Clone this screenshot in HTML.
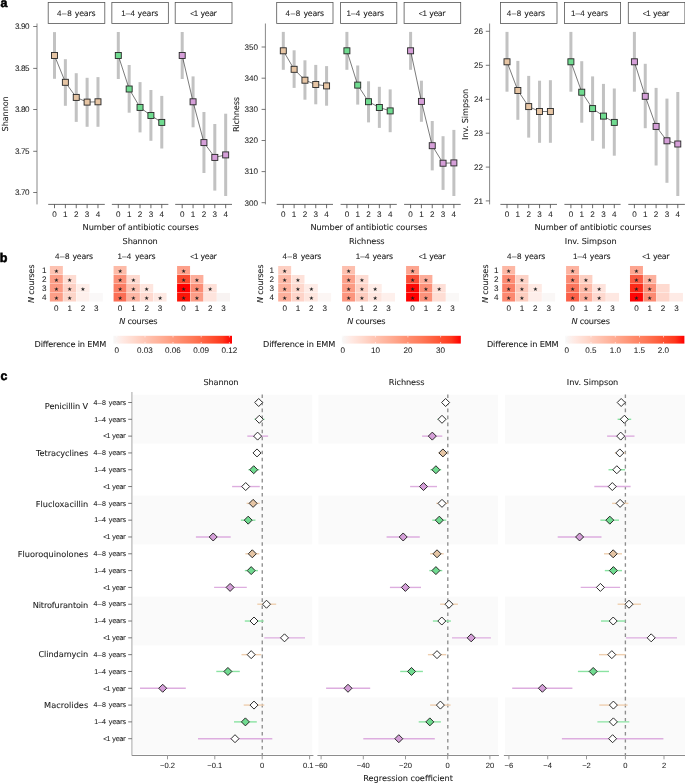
<!DOCTYPE html>
<html lang="en"><head><meta charset="utf-8"><title>Antibiotic courses and gut microbiome diversity</title>
<style>html,body{margin:0;padding:0;background:#fff}body{width:685px;height:783px;overflow:hidden}svg{display:block}text{font-family:'Liberation Sans', 'DejaVu Sans', sans-serif;fill:#222;stroke:#222;stroke-width:.05px;text-rendering:geometricPrecision}text.l{font-family:'DejaVu Sans', 'Liberation Sans', sans-serif;stroke-width:.08px}tspan.d{font-family:'Liberation Sans', 'DejaVu Sans', sans-serif}</style>
</head><body>
<svg width="685" height="783" viewBox="0 0 685 783" role="img" aria-label="Gut microbiome diversity by number of antibiotic courses">
<defs><linearGradient id="rg" x1="0" y1="0" x2="1" y2="0"><stop offset="0" stop-color="#F8F8F8"/><stop offset="0.08" stop-color="#FFE9E3"/><stop offset="0.17" stop-color="#FFDACE"/><stop offset="0.25" stop-color="#FFCABA"/><stop offset="0.33" stop-color="#FFBBA6"/><stop offset="0.42" stop-color="#FFAB92"/><stop offset="0.5" stop-color="#FF9B7E"/><stop offset="0.58" stop-color="#FF8A6B"/><stop offset="0.67" stop-color="#FF7958"/><stop offset="0.75" stop-color="#FF6645"/><stop offset="0.83" stop-color="#FF5131"/><stop offset="0.92" stop-color="#FF371C"/><stop offset="1" stop-color="#FF0000"/></linearGradient></defs>
<rect width="685" height="783" fill="#fff"/>
<text x="0.6" y="6.7" font-size="12.4" style="font-weight:bold;fill:#000;stroke:#000;stroke-width:.55px">a</text>
<text x="-0.3" y="261.5" font-size="12.6" style="font-weight:bold;fill:#000;stroke:#000;stroke-width:.55px">b</text>
<text x="0.6" y="380" font-size="12.3" style="font-weight:bold;fill:#000;stroke:#000;stroke-width:.55px">c</text>
<g id="panel-a">
<line x1="37" y1="23.5" x2="37" y2="204.4" stroke="#7a7a7a" stroke-width="0.9"/>
<line x1="33.2" y1="26.5" x2="37" y2="26.5" stroke="#555" stroke-width="0.8"/>
<text x="29.6" y="29.35" font-size="8.1" text-anchor="end" textLength="14.6" lengthAdjust="spacing">3.90</text>
<line x1="33.2" y1="68.4" x2="37" y2="68.4" stroke="#555" stroke-width="0.8"/>
<text x="29.6" y="71.25" font-size="8.1" text-anchor="end" textLength="14.6" lengthAdjust="spacing">3.85</text>
<line x1="33.2" y1="109.5" x2="37" y2="109.5" stroke="#555" stroke-width="0.8"/>
<text x="29.6" y="112.35" font-size="8.1" text-anchor="end" textLength="14.6" lengthAdjust="spacing">3.80</text>
<line x1="33.2" y1="151.3" x2="37" y2="151.3" stroke="#555" stroke-width="0.8"/>
<text x="29.6" y="154.15" font-size="8.1" text-anchor="end" textLength="14.6" lengthAdjust="spacing">3.75</text>
<line x1="33.2" y1="192.5" x2="37" y2="192.5" stroke="#555" stroke-width="0.8"/>
<text x="29.6" y="195.35" font-size="8.1" text-anchor="end" textLength="14.6" lengthAdjust="spacing">3.70</text>
<text x="8.3" y="113.8" font-size="8.2" text-anchor="middle" textLength="35.2" lengthAdjust="spacing" class="l" transform="rotate(-90 8.3 113.8)">Shannon</text>
<rect x="48.2" y="2.5" width="56.6" height="21" fill="#fff" stroke="#555" stroke-width="0.8"/>
<text class="l" y="15.75" font-size="7.87"><tspan class="d" x="57" font-size="8" style="letter-spacing:0.63px">4–8 </tspan><tspan x="74.8" style="letter-spacing:-0.22px">years</tspan></text>
<line x1="48.2" y1="204.4" x2="104.8" y2="204.4" stroke="#444" stroke-width="0.8"/>
<line x1="54.5" y1="204.4" x2="54.5" y2="208.2" stroke="#444" stroke-width="0.8"/>
<text x="54.5" y="217.3" font-size="8.1" text-anchor="middle">0</text>
<line x1="65.37" y1="204.4" x2="65.37" y2="208.2" stroke="#444" stroke-width="0.8"/>
<text x="65.37" y="217.3" font-size="8.1" text-anchor="middle">1</text>
<line x1="76.24" y1="204.4" x2="76.24" y2="208.2" stroke="#444" stroke-width="0.8"/>
<text x="76.24" y="217.3" font-size="8.1" text-anchor="middle">2</text>
<line x1="87.11" y1="204.4" x2="87.11" y2="208.2" stroke="#444" stroke-width="0.8"/>
<text x="87.11" y="217.3" font-size="8.1" text-anchor="middle">3</text>
<line x1="97.98" y1="204.4" x2="97.98" y2="208.2" stroke="#444" stroke-width="0.8"/>
<text x="97.98" y="217.3" font-size="8.1" text-anchor="middle">4</text>
<rect x="53" y="32.1" width="3" height="46.7" fill="#C2C2C2"/>
<rect x="63.87" y="59.2" width="3" height="46.6" fill="#C2C2C2"/>
<rect x="74.74" y="73.2" width="3" height="48.7" fill="#C2C2C2"/>
<rect x="85.61" y="77.8" width="3" height="49" fill="#C2C2C2"/>
<rect x="96.48" y="77.1" width="3" height="49.7" fill="#C2C2C2"/>
<polyline points="54.5,55.5 65.37,82.3 76.24,97.4 87.11,102.1 97.98,101.8" fill="none" stroke="#222" stroke-width="0.6"/>
<rect x="51.5" y="52.5" width="6" height="6" fill="#E6C5A4" stroke="#262626" stroke-width="0.9"/>
<rect x="62.37" y="79.3" width="6" height="6" fill="#E6C5A4" stroke="#262626" stroke-width="0.9"/>
<rect x="73.24" y="94.4" width="6" height="6" fill="#E6C5A4" stroke="#262626" stroke-width="0.9"/>
<rect x="84.11" y="99.1" width="6" height="6" fill="#E6C5A4" stroke="#262626" stroke-width="0.9"/>
<rect x="94.98" y="98.8" width="6" height="6" fill="#E6C5A4" stroke="#262626" stroke-width="0.9"/>
<rect x="111.85" y="2.5" width="56.5" height="21" fill="#fff" stroke="#555" stroke-width="0.8"/>
<text class="l" y="15.75" font-size="7.87"><tspan class="d" x="121.15" font-size="8" style="letter-spacing:0.2px">1–4 </tspan><tspan x="137.5" style="letter-spacing:-0.22px">years</tspan></text>
<line x1="111.85" y1="204.4" x2="168.35" y2="204.4" stroke="#444" stroke-width="0.8"/>
<line x1="118.3" y1="204.4" x2="118.3" y2="208.2" stroke="#444" stroke-width="0.8"/>
<text x="118.3" y="217.3" font-size="8.1" text-anchor="middle">0</text>
<line x1="129.17" y1="204.4" x2="129.17" y2="208.2" stroke="#444" stroke-width="0.8"/>
<text x="129.17" y="217.3" font-size="8.1" text-anchor="middle">1</text>
<line x1="140.04" y1="204.4" x2="140.04" y2="208.2" stroke="#444" stroke-width="0.8"/>
<text x="140.04" y="217.3" font-size="8.1" text-anchor="middle">2</text>
<line x1="150.91" y1="204.4" x2="150.91" y2="208.2" stroke="#444" stroke-width="0.8"/>
<text x="150.91" y="217.3" font-size="8.1" text-anchor="middle">3</text>
<line x1="161.78" y1="204.4" x2="161.78" y2="208.2" stroke="#444" stroke-width="0.8"/>
<text x="161.78" y="217.3" font-size="8.1" text-anchor="middle">4</text>
<rect x="116.8" y="32" width="3" height="47" fill="#C2C2C2"/>
<rect x="127.67" y="65" width="3" height="47.7" fill="#C2C2C2"/>
<rect x="138.54" y="82.1" width="3" height="50.3" fill="#C2C2C2"/>
<rect x="149.41" y="90" width="3" height="50.8" fill="#C2C2C2"/>
<rect x="160.28" y="95.9" width="3" height="52.6" fill="#C2C2C2"/>
<polyline points="118.3,55.5 129.17,89 140.04,107.4 150.91,115.5 161.78,122.4" fill="none" stroke="#222" stroke-width="0.6"/>
<rect x="115.3" y="52.5" width="6" height="6" fill="#70DB90" stroke="#262626" stroke-width="0.9"/>
<rect x="126.17" y="86" width="6" height="6" fill="#70DB90" stroke="#262626" stroke-width="0.9"/>
<rect x="137.04" y="104.4" width="6" height="6" fill="#70DB90" stroke="#262626" stroke-width="0.9"/>
<rect x="147.91" y="112.5" width="6" height="6" fill="#70DB90" stroke="#262626" stroke-width="0.9"/>
<rect x="158.78" y="119.4" width="6" height="6" fill="#70DB90" stroke="#262626" stroke-width="0.9"/>
<rect x="175.2" y="2.5" width="56.8" height="21" fill="#fff" stroke="#555" stroke-width="0.8"/>
<text class="l" y="15.75" font-size="7.87"><tspan class="d" x="190.15" font-size="7.3">&lt;</tspan><tspan class="d" x="193.83" font-size="8">1 </tspan><tspan x="200.45" style="letter-spacing:-0.39px">year</tspan></text>
<line x1="175.2" y1="204.4" x2="232" y2="204.4" stroke="#444" stroke-width="0.8"/>
<line x1="182.2" y1="204.4" x2="182.2" y2="208.2" stroke="#444" stroke-width="0.8"/>
<text x="182.2" y="217.3" font-size="8.1" text-anchor="middle">0</text>
<line x1="193.07" y1="204.4" x2="193.07" y2="208.2" stroke="#444" stroke-width="0.8"/>
<text x="193.07" y="217.3" font-size="8.1" text-anchor="middle">1</text>
<line x1="203.94" y1="204.4" x2="203.94" y2="208.2" stroke="#444" stroke-width="0.8"/>
<text x="203.94" y="217.3" font-size="8.1" text-anchor="middle">2</text>
<line x1="214.81" y1="204.4" x2="214.81" y2="208.2" stroke="#444" stroke-width="0.8"/>
<text x="214.81" y="217.3" font-size="8.1" text-anchor="middle">3</text>
<line x1="225.68" y1="204.4" x2="225.68" y2="208.2" stroke="#444" stroke-width="0.8"/>
<text x="225.68" y="217.3" font-size="8.1" text-anchor="middle">4</text>
<rect x="180.7" y="32" width="3" height="47" fill="#C2C2C2"/>
<rect x="191.57" y="76.4" width="3" height="50.9" fill="#C2C2C2"/>
<rect x="202.44" y="112" width="3" height="61" fill="#C2C2C2"/>
<rect x="213.31" y="124" width="3" height="66.6" fill="#C2C2C2"/>
<rect x="224.18" y="113.7" width="3" height="82.3" fill="#C2C2C2"/>
<polyline points="182.2,55.5 193.07,101.8 203.94,142.6 214.81,157.4 225.68,154.9" fill="none" stroke="#222" stroke-width="0.6"/>
<rect x="179.2" y="52.5" width="6" height="6" fill="#D59FD8" stroke="#262626" stroke-width="0.9"/>
<rect x="190.07" y="98.8" width="6" height="6" fill="#D59FD8" stroke="#262626" stroke-width="0.9"/>
<rect x="200.94" y="139.6" width="6" height="6" fill="#D59FD8" stroke="#262626" stroke-width="0.9"/>
<rect x="211.81" y="154.4" width="6" height="6" fill="#D59FD8" stroke="#262626" stroke-width="0.9"/>
<rect x="222.68" y="151.9" width="6" height="6" fill="#D59FD8" stroke="#262626" stroke-width="0.9"/>
<text x="82.6" y="230.4" font-size="8.2" textLength="116.2" lengthAdjust="spacing" class="l">Number of antibiotic courses</text>
<text x="122.6" y="244.1" font-size="8.2" textLength="35.1" lengthAdjust="spacing" class="l">Shannon</text>
<line x1="265.4" y1="23.5" x2="265.4" y2="204.4" stroke="#7a7a7a" stroke-width="0.9"/>
<line x1="261.6" y1="47" x2="265.4" y2="47" stroke="#555" stroke-width="0.8"/>
<text x="258" y="49.85" font-size="8.1" text-anchor="end">350</text>
<line x1="261.6" y1="78.2" x2="265.4" y2="78.2" stroke="#555" stroke-width="0.8"/>
<text x="258" y="81.05" font-size="8.1" text-anchor="end">340</text>
<line x1="261.6" y1="109.4" x2="265.4" y2="109.4" stroke="#555" stroke-width="0.8"/>
<text x="258" y="112.25" font-size="8.1" text-anchor="end">330</text>
<line x1="261.6" y1="140.5" x2="265.4" y2="140.5" stroke="#555" stroke-width="0.8"/>
<text x="258" y="143.35" font-size="8.1" text-anchor="end">320</text>
<line x1="261.6" y1="171.6" x2="265.4" y2="171.6" stroke="#555" stroke-width="0.8"/>
<text x="258" y="174.45" font-size="8.1" text-anchor="end">310</text>
<line x1="261.6" y1="202.7" x2="265.4" y2="202.7" stroke="#555" stroke-width="0.8"/>
<text x="258" y="205.55" font-size="8.1" text-anchor="end">300</text>
<text x="239.3" y="114.5" font-size="8.2" text-anchor="middle" textLength="35" lengthAdjust="spacing" class="l" transform="rotate(-90 239.3 114.5)">Richness</text>
<rect x="276.7" y="2.5" width="56.3" height="21" fill="#fff" stroke="#555" stroke-width="0.8"/>
<text class="l" y="15.75" font-size="7.87"><tspan class="d" x="285.6" font-size="8" style="letter-spacing:0.63px">4–8 </tspan><tspan x="303.4" style="letter-spacing:-0.22px">years</tspan></text>
<line x1="276.7" y1="204.4" x2="333" y2="204.4" stroke="#444" stroke-width="0.8"/>
<line x1="283.3" y1="204.4" x2="283.3" y2="208.2" stroke="#444" stroke-width="0.8"/>
<text x="283.3" y="217.3" font-size="8.1" text-anchor="middle">0</text>
<line x1="294.12" y1="204.4" x2="294.12" y2="208.2" stroke="#444" stroke-width="0.8"/>
<text x="294.12" y="217.3" font-size="8.1" text-anchor="middle">1</text>
<line x1="304.94" y1="204.4" x2="304.94" y2="208.2" stroke="#444" stroke-width="0.8"/>
<text x="304.94" y="217.3" font-size="8.1" text-anchor="middle">2</text>
<line x1="315.76" y1="204.4" x2="315.76" y2="208.2" stroke="#444" stroke-width="0.8"/>
<text x="315.76" y="217.3" font-size="8.1" text-anchor="middle">3</text>
<line x1="326.58" y1="204.4" x2="326.58" y2="208.2" stroke="#444" stroke-width="0.8"/>
<text x="326.58" y="217.3" font-size="8.1" text-anchor="middle">4</text>
<rect x="281.8" y="31.9" width="3" height="37.9" fill="#C2C2C2"/>
<rect x="292.62" y="50.3" width="3" height="37.6" fill="#C2C2C2"/>
<rect x="303.44" y="60.3" width="3" height="39.4" fill="#C2C2C2"/>
<rect x="314.26" y="64.9" width="3" height="39.4" fill="#C2C2C2"/>
<rect x="325.08" y="66.1" width="3" height="39.6" fill="#C2C2C2"/>
<polyline points="283.3,50.8 294.12,69.3 304.94,80.2 315.76,84.5 326.58,85.9" fill="none" stroke="#222" stroke-width="0.6"/>
<rect x="280.3" y="47.8" width="6" height="6" fill="#E6C5A4" stroke="#262626" stroke-width="0.9"/>
<rect x="291.12" y="66.3" width="6" height="6" fill="#E6C5A4" stroke="#262626" stroke-width="0.9"/>
<rect x="301.94" y="77.2" width="6" height="6" fill="#E6C5A4" stroke="#262626" stroke-width="0.9"/>
<rect x="312.76" y="81.5" width="6" height="6" fill="#E6C5A4" stroke="#262626" stroke-width="0.9"/>
<rect x="323.58" y="82.9" width="6" height="6" fill="#E6C5A4" stroke="#262626" stroke-width="0.9"/>
<rect x="340.6" y="2.5" width="56.2" height="21" fill="#fff" stroke="#555" stroke-width="0.8"/>
<text class="l" y="15.75" font-size="7.87"><tspan class="d" x="346.45" font-size="8" style="letter-spacing:0.2px">1–4 </tspan><tspan x="363.3" style="letter-spacing:-0.22px">years</tspan></text>
<line x1="340.6" y1="204.4" x2="396.8" y2="204.4" stroke="#444" stroke-width="0.8"/>
<line x1="346.9" y1="204.4" x2="346.9" y2="208.2" stroke="#444" stroke-width="0.8"/>
<text x="346.9" y="217.3" font-size="8.1" text-anchor="middle">0</text>
<line x1="357.72" y1="204.4" x2="357.72" y2="208.2" stroke="#444" stroke-width="0.8"/>
<text x="357.72" y="217.3" font-size="8.1" text-anchor="middle">1</text>
<line x1="368.54" y1="204.4" x2="368.54" y2="208.2" stroke="#444" stroke-width="0.8"/>
<text x="368.54" y="217.3" font-size="8.1" text-anchor="middle">2</text>
<line x1="379.36" y1="204.4" x2="379.36" y2="208.2" stroke="#444" stroke-width="0.8"/>
<text x="379.36" y="217.3" font-size="8.1" text-anchor="middle">3</text>
<line x1="390.18" y1="204.4" x2="390.18" y2="208.2" stroke="#444" stroke-width="0.8"/>
<text x="390.18" y="217.3" font-size="8.1" text-anchor="middle">4</text>
<rect x="345.4" y="31.9" width="3" height="37.9" fill="#C2C2C2"/>
<rect x="356.22" y="65.5" width="3" height="39.1" fill="#C2C2C2"/>
<rect x="367.04" y="81.3" width="3" height="41.1" fill="#C2C2C2"/>
<rect x="377.86" y="86.8" width="3" height="41.1" fill="#C2C2C2"/>
<rect x="388.68" y="89.4" width="3" height="42.8" fill="#C2C2C2"/>
<polyline points="346.9,50.8 357.72,85.1 368.54,101.7 379.36,107.5 390.18,110.9" fill="none" stroke="#222" stroke-width="0.6"/>
<rect x="343.9" y="47.8" width="6" height="6" fill="#70DB90" stroke="#262626" stroke-width="0.9"/>
<rect x="354.72" y="82.1" width="6" height="6" fill="#70DB90" stroke="#262626" stroke-width="0.9"/>
<rect x="365.54" y="98.7" width="6" height="6" fill="#70DB90" stroke="#262626" stroke-width="0.9"/>
<rect x="376.36" y="104.5" width="6" height="6" fill="#70DB90" stroke="#262626" stroke-width="0.9"/>
<rect x="387.18" y="107.9" width="6" height="6" fill="#70DB90" stroke="#262626" stroke-width="0.9"/>
<rect x="404.1" y="2.5" width="56.6" height="21" fill="#fff" stroke="#555" stroke-width="0.8"/>
<text class="l" y="15.75" font-size="7.87"><tspan class="d" x="418.85" font-size="7.3">&lt;</tspan><tspan class="d" x="422.53" font-size="8">1 </tspan><tspan x="429.15" style="letter-spacing:-0.39px">year</tspan></text>
<line x1="404.1" y1="204.4" x2="460.7" y2="204.4" stroke="#444" stroke-width="0.8"/>
<line x1="410.6" y1="204.4" x2="410.6" y2="208.2" stroke="#444" stroke-width="0.8"/>
<text x="410.6" y="217.3" font-size="8.1" text-anchor="middle">0</text>
<line x1="421.42" y1="204.4" x2="421.42" y2="208.2" stroke="#444" stroke-width="0.8"/>
<text x="421.42" y="217.3" font-size="8.1" text-anchor="middle">1</text>
<line x1="432.24" y1="204.4" x2="432.24" y2="208.2" stroke="#444" stroke-width="0.8"/>
<text x="432.24" y="217.3" font-size="8.1" text-anchor="middle">2</text>
<line x1="443.06" y1="204.4" x2="443.06" y2="208.2" stroke="#444" stroke-width="0.8"/>
<text x="443.06" y="217.3" font-size="8.1" text-anchor="middle">3</text>
<line x1="453.88" y1="204.4" x2="453.88" y2="208.2" stroke="#444" stroke-width="0.8"/>
<text x="453.88" y="217.3" font-size="8.1" text-anchor="middle">4</text>
<rect x="409.1" y="31.9" width="3" height="37.9" fill="#C2C2C2"/>
<rect x="419.92" y="80.7" width="3" height="41.1" fill="#C2C2C2"/>
<rect x="430.74" y="121" width="3" height="49.4" fill="#C2C2C2"/>
<rect x="441.56" y="136.2" width="3" height="53.7" fill="#C2C2C2"/>
<rect x="452.38" y="129.9" width="3" height="66.1" fill="#C2C2C2"/>
<polyline points="410.6,50.8 421.42,101.4 432.24,145.7 443.06,163.2 453.88,162.9" fill="none" stroke="#222" stroke-width="0.6"/>
<rect x="407.6" y="47.8" width="6" height="6" fill="#D59FD8" stroke="#262626" stroke-width="0.9"/>
<rect x="418.42" y="98.4" width="6" height="6" fill="#D59FD8" stroke="#262626" stroke-width="0.9"/>
<rect x="429.24" y="142.7" width="6" height="6" fill="#D59FD8" stroke="#262626" stroke-width="0.9"/>
<rect x="440.06" y="160.2" width="6" height="6" fill="#D59FD8" stroke="#262626" stroke-width="0.9"/>
<rect x="450.88" y="159.9" width="6" height="6" fill="#D59FD8" stroke="#262626" stroke-width="0.9"/>
<text x="310.4" y="230.4" font-size="8.2" textLength="116.8" lengthAdjust="spacing" class="l">Number of antibiotic courses</text>
<text x="349" y="244.1" font-size="8.2" textLength="35.6" lengthAdjust="spacing" class="l">Richness</text>
<line x1="489.6" y1="23.5" x2="489.6" y2="204.4" stroke="#7a7a7a" stroke-width="0.9"/>
<line x1="485.8" y1="31.3" x2="489.6" y2="31.3" stroke="#555" stroke-width="0.8"/>
<text x="483.1" y="34.15" font-size="8.1" text-anchor="end">26</text>
<line x1="485.8" y1="65.3" x2="489.6" y2="65.3" stroke="#555" stroke-width="0.8"/>
<text x="483.1" y="68.15" font-size="8.1" text-anchor="end">25</text>
<line x1="485.8" y1="99.3" x2="489.6" y2="99.3" stroke="#555" stroke-width="0.8"/>
<text x="483.1" y="102.15" font-size="8.1" text-anchor="end">24</text>
<line x1="485.8" y1="133.2" x2="489.6" y2="133.2" stroke="#555" stroke-width="0.8"/>
<text x="483.1" y="136.05" font-size="8.1" text-anchor="end">23</text>
<line x1="485.8" y1="167.1" x2="489.6" y2="167.1" stroke="#555" stroke-width="0.8"/>
<text x="483.1" y="169.95" font-size="8.1" text-anchor="end">22</text>
<line x1="485.8" y1="200.9" x2="489.6" y2="200.9" stroke="#555" stroke-width="0.8"/>
<text x="483.1" y="203.75" font-size="8.1" text-anchor="end">21</text>
<text x="467.9" y="114.3" font-size="8.2" text-anchor="middle" textLength="51.2" lengthAdjust="spacing" class="l" transform="rotate(-90 467.9 114.3)">Inv. Simpson</text>
<rect x="500.4" y="2.5" width="56.6" height="21" fill="#fff" stroke="#555" stroke-width="0.8"/>
<text class="l" y="15.75" font-size="7.87"><tspan class="d" x="506.7" font-size="8" style="letter-spacing:0.63px">4–8 </tspan><tspan x="524.3" style="letter-spacing:-0.22px">years</tspan></text>
<line x1="500.4" y1="204.4" x2="557" y2="204.4" stroke="#444" stroke-width="0.8"/>
<line x1="507" y1="204.4" x2="507" y2="208.2" stroke="#444" stroke-width="0.8"/>
<text x="507" y="217.3" font-size="8.1" text-anchor="middle">0</text>
<line x1="517.85" y1="204.4" x2="517.85" y2="208.2" stroke="#444" stroke-width="0.8"/>
<text x="517.85" y="217.3" font-size="8.1" text-anchor="middle">1</text>
<line x1="528.7" y1="204.4" x2="528.7" y2="208.2" stroke="#444" stroke-width="0.8"/>
<text x="528.7" y="217.3" font-size="8.1" text-anchor="middle">2</text>
<line x1="539.55" y1="204.4" x2="539.55" y2="208.2" stroke="#444" stroke-width="0.8"/>
<text x="539.55" y="217.3" font-size="8.1" text-anchor="middle">3</text>
<line x1="550.4" y1="204.4" x2="550.4" y2="208.2" stroke="#444" stroke-width="0.8"/>
<text x="550.4" y="217.3" font-size="8.1" text-anchor="middle">4</text>
<rect x="505.5" y="31.9" width="3" height="59.8" fill="#C2C2C2"/>
<rect x="516.35" y="60.9" width="3" height="58.9" fill="#C2C2C2"/>
<rect x="527.2" y="75.9" width="3" height="61.7" fill="#C2C2C2"/>
<rect x="538.05" y="80.7" width="3" height="62.1" fill="#C2C2C2"/>
<rect x="548.9" y="80.2" width="3" height="62.6" fill="#C2C2C2"/>
<polyline points="507,61.8 517.85,90.5 528.7,106.6 539.55,111.5 550.4,111.5" fill="none" stroke="#222" stroke-width="0.6"/>
<rect x="504" y="58.8" width="6" height="6" fill="#E6C5A4" stroke="#262626" stroke-width="0.9"/>
<rect x="514.85" y="87.5" width="6" height="6" fill="#E6C5A4" stroke="#262626" stroke-width="0.9"/>
<rect x="525.7" y="103.6" width="6" height="6" fill="#E6C5A4" stroke="#262626" stroke-width="0.9"/>
<rect x="536.55" y="108.5" width="6" height="6" fill="#E6C5A4" stroke="#262626" stroke-width="0.9"/>
<rect x="547.4" y="108.5" width="6" height="6" fill="#E6C5A4" stroke="#262626" stroke-width="0.9"/>
<rect x="564.4" y="2.5" width="56.2" height="21" fill="#fff" stroke="#555" stroke-width="0.8"/>
<text class="l" y="15.75" font-size="7.87"><tspan class="d" x="570.95" font-size="8" style="letter-spacing:0.2px">1–4 </tspan><tspan x="587.3" style="letter-spacing:-0.22px">years</tspan></text>
<line x1="564.4" y1="204.4" x2="620.6" y2="204.4" stroke="#444" stroke-width="0.8"/>
<line x1="570.9" y1="204.4" x2="570.9" y2="208.2" stroke="#444" stroke-width="0.8"/>
<text x="570.9" y="217.3" font-size="8.1" text-anchor="middle">0</text>
<line x1="581.75" y1="204.4" x2="581.75" y2="208.2" stroke="#444" stroke-width="0.8"/>
<text x="581.75" y="217.3" font-size="8.1" text-anchor="middle">1</text>
<line x1="592.6" y1="204.4" x2="592.6" y2="208.2" stroke="#444" stroke-width="0.8"/>
<text x="592.6" y="217.3" font-size="8.1" text-anchor="middle">2</text>
<line x1="603.45" y1="204.4" x2="603.45" y2="208.2" stroke="#444" stroke-width="0.8"/>
<text x="603.45" y="217.3" font-size="8.1" text-anchor="middle">3</text>
<line x1="614.3" y1="204.4" x2="614.3" y2="208.2" stroke="#444" stroke-width="0.8"/>
<text x="614.3" y="217.3" font-size="8.1" text-anchor="middle">4</text>
<rect x="569.4" y="31.9" width="3" height="59.8" fill="#C2C2C2"/>
<rect x="580.25" y="61.2" width="3" height="61.5" fill="#C2C2C2"/>
<rect x="591.1" y="76.4" width="3" height="64.4" fill="#C2C2C2"/>
<rect x="601.95" y="83.9" width="3" height="64.7" fill="#C2C2C2"/>
<rect x="612.8" y="88.5" width="3" height="67.2" fill="#C2C2C2"/>
<polyline points="570.9,61.8 581.75,92.2 592.6,108.6 603.45,116.1 614.3,122.4" fill="none" stroke="#222" stroke-width="0.6"/>
<rect x="567.9" y="58.8" width="6" height="6" fill="#70DB90" stroke="#262626" stroke-width="0.9"/>
<rect x="578.75" y="89.2" width="6" height="6" fill="#70DB90" stroke="#262626" stroke-width="0.9"/>
<rect x="589.6" y="105.6" width="6" height="6" fill="#70DB90" stroke="#262626" stroke-width="0.9"/>
<rect x="600.45" y="113.1" width="6" height="6" fill="#70DB90" stroke="#262626" stroke-width="0.9"/>
<rect x="611.3" y="119.4" width="6" height="6" fill="#70DB90" stroke="#262626" stroke-width="0.9"/>
<rect x="628.3" y="2.5" width="56.6" height="21" fill="#fff" stroke="#555" stroke-width="0.8"/>
<text class="l" y="15.75" font-size="7.87"><tspan class="d" x="642.65" font-size="7.3">&lt;</tspan><tspan class="d" x="646.33" font-size="8">1 </tspan><tspan x="652.95" style="letter-spacing:-0.39px">year</tspan></text>
<line x1="628.3" y1="204.4" x2="684.9" y2="204.4" stroke="#444" stroke-width="0.8"/>
<line x1="634.4" y1="204.4" x2="634.4" y2="208.2" stroke="#444" stroke-width="0.8"/>
<text x="634.4" y="217.3" font-size="8.1" text-anchor="middle">0</text>
<line x1="645.25" y1="204.4" x2="645.25" y2="208.2" stroke="#444" stroke-width="0.8"/>
<text x="645.25" y="217.3" font-size="8.1" text-anchor="middle">1</text>
<line x1="656.1" y1="204.4" x2="656.1" y2="208.2" stroke="#444" stroke-width="0.8"/>
<text x="656.1" y="217.3" font-size="8.1" text-anchor="middle">2</text>
<line x1="666.95" y1="204.4" x2="666.95" y2="208.2" stroke="#444" stroke-width="0.8"/>
<text x="666.95" y="217.3" font-size="8.1" text-anchor="middle">3</text>
<line x1="677.8" y1="204.4" x2="677.8" y2="208.2" stroke="#444" stroke-width="0.8"/>
<text x="677.8" y="217.3" font-size="8.1" text-anchor="middle">4</text>
<rect x="632.9" y="31.9" width="3" height="59.8" fill="#C2C2C2"/>
<rect x="643.75" y="63.8" width="3" height="64.4" fill="#C2C2C2"/>
<rect x="654.6" y="87.9" width="3" height="77.6" fill="#C2C2C2"/>
<rect x="665.45" y="98.6" width="3" height="84.2" fill="#C2C2C2"/>
<rect x="676.3" y="92" width="3" height="104" fill="#C2C2C2"/>
<polyline points="634.4,61.8 645.25,96.3 656.1,126.4 666.95,140.8 677.8,144" fill="none" stroke="#222" stroke-width="0.6"/>
<rect x="631.4" y="58.8" width="6" height="6" fill="#D59FD8" stroke="#262626" stroke-width="0.9"/>
<rect x="642.25" y="93.3" width="6" height="6" fill="#D59FD8" stroke="#262626" stroke-width="0.9"/>
<rect x="653.1" y="123.4" width="6" height="6" fill="#D59FD8" stroke="#262626" stroke-width="0.9"/>
<rect x="663.95" y="137.8" width="6" height="6" fill="#D59FD8" stroke="#262626" stroke-width="0.9"/>
<rect x="674.8" y="141" width="6" height="6" fill="#D59FD8" stroke="#262626" stroke-width="0.9"/>
<text x="534.5" y="230.4" font-size="8.2" textLength="116.8" lengthAdjust="spacing" class="l">Number of antibiotic courses</text>
<text x="564.8" y="244.1" font-size="8.2" textLength="51.8" lengthAdjust="spacing" class="l">Inv. Simpson</text>
</g>
<g id="panel-b">
<text x="34.4" y="283.8" font-size="8.2" text-anchor="middle" textLength="38.5" lengthAdjust="spacing" class="l" transform="rotate(-90 34.4 283.8)"><tspan font-style="italic">N</tspan> courses</text>
<text class="l" y="258.9" font-size="7.87"><tspan class="d" x="54.9" font-size="8" style="letter-spacing:0.63px">4–8 </tspan><tspan x="72.4" style="letter-spacing:-0.22px">years</tspan></text>
<rect x="49.88" y="265.98" width="12.97" height="8.64" fill="#FDC2B1"/>
<text x="56.37" y="272.8" font-size="5.4" text-anchor="middle" style='font-family:"DejaVu Sans","Liberation Sans",sans-serif' fill="#111">★</text>
<text x="46.4" y="272.95" font-size="8.1" text-anchor="end">1</text>
<rect x="49.88" y="274.98" width="12.97" height="8.64" fill="#FC9E87"/>
<text x="56.37" y="281.8" font-size="5.4" text-anchor="middle" style='font-family:"DejaVu Sans","Liberation Sans",sans-serif' fill="#111">★</text>
<rect x="63.21" y="274.98" width="12.97" height="8.64" fill="#FEDCD2"/>
<text x="69.7" y="281.8" font-size="5.4" text-anchor="middle" style='font-family:"DejaVu Sans","Liberation Sans",sans-serif' fill="#111">★</text>
<text x="46.4" y="281.95" font-size="8.1" text-anchor="end">2</text>
<rect x="49.88" y="283.98" width="12.97" height="8.59" fill="#FC9982"/>
<text x="56.37" y="290.77" font-size="5.4" text-anchor="middle" style='font-family:"DejaVu Sans","Liberation Sans",sans-serif' fill="#111">★</text>
<rect x="63.21" y="283.98" width="12.97" height="8.59" fill="#FDD0C4"/>
<text x="69.7" y="290.77" font-size="5.4" text-anchor="middle" style='font-family:"DejaVu Sans","Liberation Sans",sans-serif' fill="#111">★</text>
<rect x="76.54" y="283.98" width="12.97" height="8.59" fill="#FEEEE9"/>
<text x="83.03" y="290.77" font-size="5.4" text-anchor="middle" style='font-family:"DejaVu Sans","Liberation Sans",sans-serif' fill="#111">★</text>
<text x="46.4" y="290.92" font-size="8.1" text-anchor="end">3</text>
<rect x="49.88" y="292.93" width="12.97" height="8.59" fill="#FC9E87"/>
<text x="56.37" y="299.73" font-size="5.4" text-anchor="middle" style='font-family:"DejaVu Sans","Liberation Sans",sans-serif' fill="#111">★</text>
<rect x="63.21" y="292.93" width="12.97" height="8.59" fill="#FDD5C9"/>
<text x="69.7" y="299.73" font-size="5.4" text-anchor="middle" style='font-family:"DejaVu Sans","Liberation Sans",sans-serif' fill="#111">★</text>
<rect x="76.54" y="292.93" width="12.97" height="8.59" fill="#FEF0EC"/>
<rect x="89.87" y="292.93" width="12.97" height="8.59" fill="#FAF8F8"/>
<text x="46.4" y="299.88" font-size="8.1" text-anchor="end">4</text>
<text x="56.37" y="311.4" font-size="8.1" text-anchor="middle">0</text>
<text x="69.7" y="311.4" font-size="8.1" text-anchor="middle">1</text>
<text x="83.03" y="311.4" font-size="8.1" text-anchor="middle">2</text>
<text x="96.36" y="311.4" font-size="8.1" text-anchor="middle">3</text>
<text class="l" y="258.9" font-size="7.87"><tspan class="d" x="117.45" font-size="8" style="letter-spacing:0.2px">1–4 </tspan><tspan x="134.9" style="letter-spacing:-0.22px">years</tspan></text>
<rect x="113.58" y="265.98" width="12.97" height="8.64" fill="#FDBBA8"/>
<text x="120.07" y="272.8" font-size="5.4" text-anchor="middle" style='font-family:"DejaVu Sans","Liberation Sans",sans-serif' fill="#111">★</text>
<rect x="113.58" y="274.98" width="12.97" height="8.64" fill="#FC9078"/>
<text x="120.07" y="281.8" font-size="5.4" text-anchor="middle" style='font-family:"DejaVu Sans","Liberation Sans",sans-serif' fill="#111">★</text>
<rect x="126.91" y="274.98" width="12.97" height="8.64" fill="#FEDAD0"/>
<text x="133.4" y="281.8" font-size="5.4" text-anchor="middle" style='font-family:"DejaVu Sans","Liberation Sans",sans-serif' fill="#111">★</text>
<rect x="113.58" y="283.98" width="12.97" height="8.59" fill="#FB7D64"/>
<text x="120.07" y="290.77" font-size="5.4" text-anchor="middle" style='font-family:"DejaVu Sans","Liberation Sans",sans-serif' fill="#111">★</text>
<rect x="126.91" y="283.98" width="12.97" height="8.59" fill="#FDC3B3"/>
<text x="133.4" y="290.77" font-size="5.4" text-anchor="middle" style='font-family:"DejaVu Sans","Liberation Sans",sans-serif' fill="#111">★</text>
<rect x="140.24" y="283.98" width="12.97" height="8.59" fill="#FEE6DF"/>
<text x="146.72" y="290.77" font-size="5.4" text-anchor="middle" style='font-family:"DejaVu Sans","Liberation Sans",sans-serif' fill="#111">★</text>
<rect x="113.58" y="292.93" width="12.97" height="8.59" fill="#FB6E55"/>
<text x="120.07" y="299.73" font-size="5.4" text-anchor="middle" style='font-family:"DejaVu Sans","Liberation Sans",sans-serif' fill="#111">★</text>
<rect x="126.91" y="292.93" width="12.97" height="8.59" fill="#FDB5A3"/>
<text x="133.4" y="299.73" font-size="5.4" text-anchor="middle" style='font-family:"DejaVu Sans","Liberation Sans",sans-serif' fill="#111">★</text>
<rect x="140.24" y="292.93" width="12.97" height="8.59" fill="#FED9CF"/>
<text x="146.72" y="299.73" font-size="5.4" text-anchor="middle" style='font-family:"DejaVu Sans","Liberation Sans",sans-serif' fill="#111">★</text>
<rect x="153.57" y="292.93" width="12.97" height="8.59" fill="#FEE9E3"/>
<text x="160.06" y="299.73" font-size="5.4" text-anchor="middle" style='font-family:"DejaVu Sans","Liberation Sans",sans-serif' fill="#111">★</text>
<text x="120.07" y="311.4" font-size="8.1" text-anchor="middle">0</text>
<text x="133.4" y="311.4" font-size="8.1" text-anchor="middle">1</text>
<text x="146.72" y="311.4" font-size="8.1" text-anchor="middle">2</text>
<text x="160.06" y="311.4" font-size="8.1" text-anchor="middle">3</text>
<text class="l" y="258.9" font-size="7.87"><tspan class="d" x="190.35" font-size="7.3">&lt;</tspan><tspan class="d" x="194" font-size="8">1 </tspan><tspan x="200.58" style="letter-spacing:-0.43px">year</tspan></text>
<rect x="177.08" y="265.98" width="12.97" height="8.64" fill="#FDA08A"/>
<text x="183.56" y="272.8" font-size="5.4" text-anchor="middle" style='font-family:"DejaVu Sans","Liberation Sans",sans-serif' fill="#111">★</text>
<rect x="177.08" y="274.98" width="12.97" height="8.64" fill="#FA4B30"/>
<text x="183.56" y="281.8" font-size="5.4" text-anchor="middle" style='font-family:"DejaVu Sans","Liberation Sans",sans-serif' fill="#111">★</text>
<rect x="190.41" y="274.98" width="12.97" height="8.64" fill="#FDAE9B"/>
<text x="196.9" y="281.8" font-size="5.4" text-anchor="middle" style='font-family:"DejaVu Sans","Liberation Sans",sans-serif' fill="#111">★</text>
<rect x="177.08" y="283.98" width="12.97" height="8.59" fill="#FF0000"/>
<text x="183.56" y="290.77" font-size="5.4" text-anchor="middle" style='font-family:"DejaVu Sans","Liberation Sans",sans-serif' fill="#111">★</text>
<rect x="190.41" y="283.98" width="12.97" height="8.59" fill="#FC8D75"/>
<text x="196.9" y="290.77" font-size="5.4" text-anchor="middle" style='font-family:"DejaVu Sans","Liberation Sans",sans-serif' fill="#111">★</text>
<rect x="203.74" y="283.98" width="12.97" height="8.59" fill="#FEE0D8"/>
<text x="210.22" y="290.77" font-size="5.4" text-anchor="middle" style='font-family:"DejaVu Sans","Liberation Sans",sans-serif' fill="#111">★</text>
<rect x="177.08" y="292.93" width="12.97" height="8.59" fill="#FB1508"/>
<text x="183.56" y="299.73" font-size="5.4" text-anchor="middle" style='font-family:"DejaVu Sans","Liberation Sans",sans-serif' fill="#111">★</text>
<rect x="190.41" y="292.93" width="12.97" height="8.59" fill="#FC9C86"/>
<text x="196.9" y="299.73" font-size="5.4" text-anchor="middle" style='font-family:"DejaVu Sans","Liberation Sans",sans-serif' fill="#111">★</text>
<rect x="203.74" y="292.93" width="12.97" height="8.59" fill="#FEE4DD"/>
<rect x="217.07" y="292.93" width="12.97" height="8.59" fill="#F8F3F2"/>
<text x="183.56" y="311.4" font-size="8.1" text-anchor="middle">0</text>
<text x="196.9" y="311.4" font-size="8.1" text-anchor="middle">1</text>
<text x="210.22" y="311.4" font-size="8.1" text-anchor="middle">2</text>
<text x="223.56" y="311.4" font-size="8.1" text-anchor="middle">3</text>
<text x="138.4" y="323.7" font-size="8.2" text-anchor="middle" textLength="38.5" lengthAdjust="spacing" class="l"><tspan font-style="italic">N</tspan> courses</text>
<text x="34.5" y="346.7" font-size="8.2" textLength="71.8" lengthAdjust="spacing" class="l">Difference in EMM</text>
<rect x="113.3" y="335.8" width="118.7" height="7.8" fill="url(#rg)"/>
<line x1="116.8" y1="335.8" x2="116.8" y2="337.4" stroke="#fff" stroke-width="0.6"/>
<line x1="116.8" y1="342" x2="116.8" y2="343.6" stroke="#fff" stroke-width="0.6"/>
<text x="116.8" y="352.8" font-size="8.1" text-anchor="middle">0</text>
<line x1="145" y1="335.8" x2="145" y2="337.4" stroke="#fff" stroke-width="0.6"/>
<line x1="145" y1="342" x2="145" y2="343.6" stroke="#fff" stroke-width="0.6"/>
<text x="145" y="352.8" font-size="8.1" text-anchor="middle">0.03</text>
<line x1="173" y1="335.8" x2="173" y2="337.4" stroke="#fff" stroke-width="0.6"/>
<line x1="173" y1="342" x2="173" y2="343.6" stroke="#fff" stroke-width="0.6"/>
<text x="173" y="352.8" font-size="8.1" text-anchor="middle">0.06</text>
<line x1="201.2" y1="335.8" x2="201.2" y2="337.4" stroke="#fff" stroke-width="0.6"/>
<line x1="201.2" y1="342" x2="201.2" y2="343.6" stroke="#fff" stroke-width="0.6"/>
<text x="201.2" y="352.8" font-size="8.1" text-anchor="middle">0.09</text>
<line x1="229.4" y1="335.8" x2="229.4" y2="337.4" stroke="#fff" stroke-width="0.6"/>
<line x1="229.4" y1="342" x2="229.4" y2="343.6" stroke="#fff" stroke-width="0.6"/>
<text x="229.4" y="352.8" font-size="8.1" text-anchor="middle">0.12</text>
<text x="263.4" y="283.8" font-size="8.2" text-anchor="middle" textLength="38.5" lengthAdjust="spacing" class="l" transform="rotate(-90 263.4 283.8)"><tspan font-style="italic">N</tspan> courses</text>
<text class="l" y="258.9" font-size="7.87"><tspan class="d" x="282.5" font-size="8" style="letter-spacing:0.63px">4–8 </tspan><tspan x="300.7" style="letter-spacing:-0.22px">years</tspan></text>
<rect x="278.18" y="265.98" width="12.97" height="8.64" fill="#FDCFC2"/>
<text x="284.67" y="272.8" font-size="5.4" text-anchor="middle" style='font-family:"DejaVu Sans","Liberation Sans",sans-serif' fill="#111">★</text>
<text x="273.9" y="272.95" font-size="8.1" text-anchor="end">1</text>
<rect x="278.18" y="274.98" width="12.97" height="8.64" fill="#FDB9A7"/>
<text x="284.67" y="281.8" font-size="5.4" text-anchor="middle" style='font-family:"DejaVu Sans","Liberation Sans",sans-serif' fill="#111">★</text>
<rect x="291.51" y="274.98" width="12.97" height="8.64" fill="#FEE2DA"/>
<text x="298" y="281.8" font-size="5.4" text-anchor="middle" style='font-family:"DejaVu Sans","Liberation Sans",sans-serif' fill="#111">★</text>
<text x="273.9" y="281.95" font-size="8.1" text-anchor="end">2</text>
<rect x="278.18" y="283.98" width="12.97" height="8.59" fill="#FDB29E"/>
<text x="284.67" y="290.77" font-size="5.4" text-anchor="middle" style='font-family:"DejaVu Sans","Liberation Sans",sans-serif' fill="#111">★</text>
<rect x="291.51" y="283.98" width="12.97" height="8.59" fill="#FED8CD"/>
<text x="298" y="290.77" font-size="5.4" text-anchor="middle" style='font-family:"DejaVu Sans","Liberation Sans",sans-serif' fill="#111">★</text>
<rect x="304.84" y="283.98" width="12.97" height="8.59" fill="#FEECE7"/>
<text x="311.33" y="290.77" font-size="5.4" text-anchor="middle" style='font-family:"DejaVu Sans","Liberation Sans",sans-serif' fill="#111">★</text>
<text x="273.9" y="290.92" font-size="8.1" text-anchor="end">3</text>
<rect x="278.18" y="292.93" width="12.97" height="8.59" fill="#FDAF9B"/>
<text x="284.67" y="299.73" font-size="5.4" text-anchor="middle" style='font-family:"DejaVu Sans","Liberation Sans",sans-serif' fill="#111">★</text>
<rect x="291.51" y="292.93" width="12.97" height="8.59" fill="#FED4C9"/>
<text x="298" y="299.73" font-size="5.4" text-anchor="middle" style='font-family:"DejaVu Sans","Liberation Sans",sans-serif' fill="#111">★</text>
<rect x="304.84" y="292.93" width="12.97" height="8.59" fill="#FEE6DF"/>
<text x="311.33" y="299.73" font-size="5.4" text-anchor="middle" style='font-family:"DejaVu Sans","Liberation Sans",sans-serif' fill="#111">★</text>
<rect x="318.17" y="292.93" width="12.97" height="8.59" fill="#FCF6F4"/>
<text x="273.9" y="299.88" font-size="8.1" text-anchor="end">4</text>
<text x="284.67" y="311.4" font-size="8.1" text-anchor="middle">0</text>
<text x="298" y="311.4" font-size="8.1" text-anchor="middle">1</text>
<text x="311.33" y="311.4" font-size="8.1" text-anchor="middle">2</text>
<text x="324.66" y="311.4" font-size="8.1" text-anchor="middle">3</text>
<text class="l" y="258.9" font-size="7.87"><tspan class="d" x="355.65" font-size="8" style="letter-spacing:0.2px">1–4 </tspan><tspan x="372.4" style="letter-spacing:-0.22px">years</tspan></text>
<rect x="342.08" y="265.98" width="12.97" height="8.64" fill="#FDBFAE"/>
<text x="348.56" y="272.8" font-size="5.4" text-anchor="middle" style='font-family:"DejaVu Sans","Liberation Sans",sans-serif' fill="#111">★</text>
<rect x="342.08" y="274.98" width="12.97" height="8.64" fill="#FCA18B"/>
<text x="348.56" y="281.8" font-size="5.4" text-anchor="middle" style='font-family:"DejaVu Sans","Liberation Sans",sans-serif' fill="#111">★</text>
<rect x="355.41" y="274.98" width="12.97" height="8.64" fill="#FEDDD4"/>
<text x="361.89" y="281.8" font-size="5.4" text-anchor="middle" style='font-family:"DejaVu Sans","Liberation Sans",sans-serif' fill="#111">★</text>
<rect x="342.08" y="283.98" width="12.97" height="8.59" fill="#FC9B84"/>
<text x="348.56" y="290.77" font-size="5.4" text-anchor="middle" style='font-family:"DejaVu Sans","Liberation Sans",sans-serif' fill="#111">★</text>
<rect x="355.41" y="283.98" width="12.97" height="8.59" fill="#FDD2C6"/>
<text x="361.89" y="290.77" font-size="5.4" text-anchor="middle" style='font-family:"DejaVu Sans","Liberation Sans",sans-serif' fill="#111">★</text>
<rect x="368.74" y="283.98" width="12.97" height="8.59" fill="#FEEDE8"/>
<text x="375.23" y="290.77" font-size="5.4" text-anchor="middle" style='font-family:"DejaVu Sans","Liberation Sans",sans-serif' fill="#111">★</text>
<rect x="342.08" y="292.93" width="12.97" height="8.59" fill="#FC957E"/>
<text x="348.56" y="299.73" font-size="5.4" text-anchor="middle" style='font-family:"DejaVu Sans","Liberation Sans",sans-serif' fill="#111">★</text>
<rect x="355.41" y="292.93" width="12.97" height="8.59" fill="#FDCBBE"/>
<text x="361.89" y="299.73" font-size="5.4" text-anchor="middle" style='font-family:"DejaVu Sans","Liberation Sans",sans-serif' fill="#111">★</text>
<rect x="368.74" y="292.93" width="12.97" height="8.59" fill="#FEE5DE"/>
<text x="375.23" y="299.73" font-size="5.4" text-anchor="middle" style='font-family:"DejaVu Sans","Liberation Sans",sans-serif' fill="#111">★</text>
<rect x="382.07" y="292.93" width="12.97" height="8.59" fill="#FEF0EC"/>
<text x="348.56" y="311.4" font-size="8.1" text-anchor="middle">0</text>
<text x="361.89" y="311.4" font-size="8.1" text-anchor="middle">1</text>
<text x="375.23" y="311.4" font-size="8.1" text-anchor="middle">2</text>
<text x="388.56" y="311.4" font-size="8.1" text-anchor="middle">3</text>
<text class="l" y="258.9" font-size="7.87"><tspan class="d" x="418.85" font-size="7.3">&lt;</tspan><tspan class="d" x="422.53" font-size="8">1 </tspan><tspan x="429.15" style="letter-spacing:-0.39px">year</tspan></text>
<rect x="406.08" y="265.98" width="12.97" height="8.64" fill="#FDA590"/>
<text x="412.56" y="272.8" font-size="5.4" text-anchor="middle" style='font-family:"DejaVu Sans","Liberation Sans",sans-serif' fill="#111">★</text>
<rect x="406.08" y="274.98" width="12.97" height="8.64" fill="#FA5038"/>
<text x="412.56" y="281.8" font-size="5.4" text-anchor="middle" style='font-family:"DejaVu Sans","Liberation Sans",sans-serif' fill="#111">★</text>
<rect x="419.41" y="274.98" width="12.97" height="8.64" fill="#FDAD9A"/>
<text x="425.89" y="281.8" font-size="5.4" text-anchor="middle" style='font-family:"DejaVu Sans","Liberation Sans",sans-serif' fill="#111">★</text>
<rect x="406.08" y="283.98" width="12.97" height="8.59" fill="#FD0A05"/>
<text x="412.56" y="290.77" font-size="5.4" text-anchor="middle" style='font-family:"DejaVu Sans","Liberation Sans",sans-serif' fill="#111">★</text>
<rect x="419.41" y="283.98" width="12.97" height="8.59" fill="#FC8F77"/>
<text x="425.89" y="290.77" font-size="5.4" text-anchor="middle" style='font-family:"DejaVu Sans","Liberation Sans",sans-serif' fill="#111">★</text>
<rect x="432.74" y="283.98" width="12.97" height="8.59" fill="#FEDFD7"/>
<text x="439.23" y="290.77" font-size="5.4" text-anchor="middle" style='font-family:"DejaVu Sans","Liberation Sans",sans-serif' fill="#111">★</text>
<rect x="406.08" y="292.93" width="12.97" height="8.59" fill="#FE0000"/>
<text x="412.56" y="299.73" font-size="5.4" text-anchor="middle" style='font-family:"DejaVu Sans","Liberation Sans",sans-serif' fill="#111">★</text>
<rect x="419.41" y="292.93" width="12.97" height="8.59" fill="#FC927B"/>
<text x="425.89" y="299.73" font-size="5.4" text-anchor="middle" style='font-family:"DejaVu Sans","Liberation Sans",sans-serif' fill="#111">★</text>
<rect x="432.74" y="292.93" width="12.97" height="8.59" fill="#FEDDD4"/>
<rect x="446.07" y="292.93" width="12.97" height="8.59" fill="#FAF8F7"/>
<text x="412.56" y="311.4" font-size="8.1" text-anchor="middle">0</text>
<text x="425.89" y="311.4" font-size="8.1" text-anchor="middle">1</text>
<text x="439.23" y="311.4" font-size="8.1" text-anchor="middle">2</text>
<text x="452.56" y="311.4" font-size="8.1" text-anchor="middle">3</text>
<text x="366.4" y="323.7" font-size="8.2" text-anchor="middle" textLength="38.5" lengthAdjust="spacing" class="l"><tspan font-style="italic">N</tspan> courses</text>
<text x="263" y="346.7" font-size="8.2" textLength="72.3" lengthAdjust="spacing" class="l">Difference in EMM</text>
<rect x="341.9" y="335.8" width="118.9" height="7.8" fill="url(#rg)"/>
<line x1="342.7" y1="335.8" x2="342.7" y2="337.4" stroke="#fff" stroke-width="0.6"/>
<line x1="342.7" y1="342" x2="342.7" y2="343.6" stroke="#fff" stroke-width="0.6"/>
<text x="342.7" y="352.8" font-size="8.1" text-anchor="middle">0</text>
<line x1="375.4" y1="335.8" x2="375.4" y2="337.4" stroke="#fff" stroke-width="0.6"/>
<line x1="375.4" y1="342" x2="375.4" y2="343.6" stroke="#fff" stroke-width="0.6"/>
<text x="375.4" y="352.8" font-size="8.1" text-anchor="middle">10</text>
<line x1="407.9" y1="335.8" x2="407.9" y2="337.4" stroke="#fff" stroke-width="0.6"/>
<line x1="407.9" y1="342" x2="407.9" y2="343.6" stroke="#fff" stroke-width="0.6"/>
<text x="407.9" y="352.8" font-size="8.1" text-anchor="middle">20</text>
<line x1="440.6" y1="335.8" x2="440.6" y2="337.4" stroke="#fff" stroke-width="0.6"/>
<line x1="440.6" y1="342" x2="440.6" y2="343.6" stroke="#fff" stroke-width="0.6"/>
<text x="440.6" y="352.8" font-size="8.1" text-anchor="middle">30</text>
<text x="488" y="283.8" font-size="8.2" text-anchor="middle" textLength="38.5" lengthAdjust="spacing" class="l" transform="rotate(-90 488 283.8)"><tspan font-style="italic">N</tspan> courses</text>
<text class="l" y="258.9" font-size="7.87"><tspan class="d" x="506.9" font-size="8" style="letter-spacing:0.63px">4–8 </tspan><tspan x="524.5" style="letter-spacing:-0.22px">years</tspan></text>
<rect x="502.18" y="265.98" width="12.97" height="8.64" fill="#FDB7A4"/>
<text x="508.67" y="272.8" font-size="5.4" text-anchor="middle" style='font-family:"DejaVu Sans","Liberation Sans",sans-serif' fill="#111">★</text>
<text x="498.5" y="272.95" font-size="8.1" text-anchor="end">1</text>
<rect x="502.18" y="274.98" width="12.97" height="8.64" fill="#FC8B73"/>
<text x="508.67" y="281.8" font-size="5.4" text-anchor="middle" style='font-family:"DejaVu Sans","Liberation Sans",sans-serif' fill="#111">★</text>
<rect x="515.51" y="274.98" width="12.97" height="8.64" fill="#FDD3C7"/>
<text x="522" y="281.8" font-size="5.4" text-anchor="middle" style='font-family:"DejaVu Sans","Liberation Sans",sans-serif' fill="#111">★</text>
<text x="498.5" y="281.95" font-size="8.1" text-anchor="end">2</text>
<rect x="502.18" y="283.98" width="12.97" height="8.59" fill="#FB8068"/>
<text x="508.67" y="290.77" font-size="5.4" text-anchor="middle" style='font-family:"DejaVu Sans","Liberation Sans",sans-serif' fill="#111">★</text>
<rect x="515.51" y="283.98" width="12.97" height="8.59" fill="#FDC8BA"/>
<text x="522" y="290.77" font-size="5.4" text-anchor="middle" style='font-family:"DejaVu Sans","Liberation Sans",sans-serif' fill="#111">★</text>
<rect x="528.84" y="283.98" width="12.97" height="8.59" fill="#FEEAE4"/>
<text x="535.32" y="290.77" font-size="5.4" text-anchor="middle" style='font-family:"DejaVu Sans","Liberation Sans",sans-serif' fill="#111">★</text>
<text x="498.5" y="290.92" font-size="8.1" text-anchor="end">3</text>
<rect x="502.18" y="292.93" width="12.97" height="8.59" fill="#FC8870"/>
<text x="508.67" y="299.73" font-size="5.4" text-anchor="middle" style='font-family:"DejaVu Sans","Liberation Sans",sans-serif' fill="#111">★</text>
<rect x="515.51" y="292.93" width="12.97" height="8.59" fill="#FDCDBF"/>
<text x="522" y="299.73" font-size="5.4" text-anchor="middle" style='font-family:"DejaVu Sans","Liberation Sans",sans-serif' fill="#111">★</text>
<rect x="528.84" y="292.93" width="12.97" height="8.59" fill="#FEEEEA"/>
<rect x="542.17" y="292.93" width="12.97" height="8.59" fill="#FAF7F6"/>
<text x="498.5" y="299.88" font-size="8.1" text-anchor="end">4</text>
<text x="508.67" y="311.4" font-size="8.1" text-anchor="middle">0</text>
<text x="522" y="311.4" font-size="8.1" text-anchor="middle">1</text>
<text x="535.32" y="311.4" font-size="8.1" text-anchor="middle">2</text>
<text x="548.65" y="311.4" font-size="8.1" text-anchor="middle">3</text>
<text class="l" y="258.9" font-size="7.87"><tspan class="d" x="572.95" font-size="8" style="letter-spacing:0.2px">1–4 </tspan><tspan x="589.8" style="letter-spacing:-0.22px">years</tspan></text>
<rect x="566.08" y="265.98" width="12.97" height="8.64" fill="#FDB3A0"/>
<text x="572.56" y="272.8" font-size="5.4" text-anchor="middle" style='font-family:"DejaVu Sans","Liberation Sans",sans-serif' fill="#111">★</text>
<rect x="566.08" y="274.98" width="12.97" height="8.64" fill="#FC8B73"/>
<text x="572.56" y="281.8" font-size="5.4" text-anchor="middle" style='font-family:"DejaVu Sans","Liberation Sans",sans-serif' fill="#111">★</text>
<rect x="579.41" y="274.98" width="12.97" height="8.64" fill="#FDD0C3"/>
<text x="585.89" y="281.8" font-size="5.4" text-anchor="middle" style='font-family:"DejaVu Sans","Liberation Sans",sans-serif' fill="#111">★</text>
<rect x="566.08" y="283.98" width="12.97" height="8.59" fill="#FB755C"/>
<text x="572.56" y="290.77" font-size="5.4" text-anchor="middle" style='font-family:"DejaVu Sans","Liberation Sans",sans-serif' fill="#111">★</text>
<rect x="579.41" y="283.98" width="12.97" height="8.59" fill="#FDBBA9"/>
<text x="585.89" y="290.77" font-size="5.4" text-anchor="middle" style='font-family:"DejaVu Sans","Liberation Sans",sans-serif' fill="#111">★</text>
<rect x="592.74" y="283.98" width="12.97" height="8.59" fill="#FEE3DC"/>
<text x="599.22" y="290.77" font-size="5.4" text-anchor="middle" style='font-family:"DejaVu Sans","Liberation Sans",sans-serif' fill="#111">★</text>
<rect x="566.08" y="292.93" width="12.97" height="8.59" fill="#FB6048"/>
<text x="572.56" y="299.73" font-size="5.4" text-anchor="middle" style='font-family:"DejaVu Sans","Liberation Sans",sans-serif' fill="#111">★</text>
<rect x="579.41" y="292.93" width="12.97" height="8.59" fill="#FDAE9B"/>
<text x="585.89" y="299.73" font-size="5.4" text-anchor="middle" style='font-family:"DejaVu Sans","Liberation Sans",sans-serif' fill="#111">★</text>
<rect x="592.74" y="292.93" width="12.97" height="8.59" fill="#FED8CE"/>
<text x="599.22" y="299.73" font-size="5.4" text-anchor="middle" style='font-family:"DejaVu Sans","Liberation Sans",sans-serif' fill="#111">★</text>
<rect x="606.07" y="292.93" width="12.97" height="8.59" fill="#FEE8E2"/>
<text x="572.56" y="311.4" font-size="8.1" text-anchor="middle">0</text>
<text x="585.89" y="311.4" font-size="8.1" text-anchor="middle">1</text>
<text x="599.22" y="311.4" font-size="8.1" text-anchor="middle">2</text>
<text x="612.55" y="311.4" font-size="8.1" text-anchor="middle">3</text>
<text class="l" y="258.9" font-size="7.87"><tspan class="d" x="642.35" font-size="7.3">&lt;</tspan><tspan class="d" x="646.1" font-size="8">1 </tspan><tspan x="652.88" style="letter-spacing:-0.28px">year</tspan></text>
<rect x="629.98" y="265.98" width="12.97" height="8.64" fill="#FDA590"/>
<text x="636.46" y="272.8" font-size="5.4" text-anchor="middle" style='font-family:"DejaVu Sans","Liberation Sans",sans-serif' fill="#111">★</text>
<rect x="629.98" y="274.98" width="12.97" height="8.64" fill="#FA5A42"/>
<text x="636.46" y="281.8" font-size="5.4" text-anchor="middle" style='font-family:"DejaVu Sans","Liberation Sans",sans-serif' fill="#111">★</text>
<rect x="643.31" y="274.98" width="12.97" height="8.64" fill="#FDB19E"/>
<text x="649.79" y="281.8" font-size="5.4" text-anchor="middle" style='font-family:"DejaVu Sans","Liberation Sans",sans-serif' fill="#111">★</text>
<rect x="629.98" y="283.98" width="12.97" height="8.59" fill="#FC2A18"/>
<text x="636.46" y="290.77" font-size="5.4" text-anchor="middle" style='font-family:"DejaVu Sans","Liberation Sans",sans-serif' fill="#111">★</text>
<rect x="643.31" y="283.98" width="12.97" height="8.59" fill="#FC917A"/>
<text x="649.79" y="290.77" font-size="5.4" text-anchor="middle" style='font-family:"DejaVu Sans","Liberation Sans",sans-serif' fill="#111">★</text>
<rect x="656.64" y="283.98" width="12.97" height="8.59" fill="#FEDAD0"/>
<rect x="629.98" y="292.93" width="12.97" height="8.59" fill="#FE0505"/>
<text x="636.46" y="299.73" font-size="5.4" text-anchor="middle" style='font-family:"DejaVu Sans","Liberation Sans",sans-serif' fill="#111">★</text>
<rect x="643.31" y="292.93" width="12.97" height="8.59" fill="#FC8A72"/>
<text x="649.79" y="299.73" font-size="5.4" text-anchor="middle" style='font-family:"DejaVu Sans","Liberation Sans",sans-serif' fill="#111">★</text>
<rect x="656.64" y="292.93" width="12.97" height="8.59" fill="#FED5CA"/>
<rect x="669.97" y="292.93" width="12.97" height="8.59" fill="#FEEBE6"/>
<text x="636.46" y="311.4" font-size="8.1" text-anchor="middle">0</text>
<text x="649.79" y="311.4" font-size="8.1" text-anchor="middle">1</text>
<text x="663.12" y="311.4" font-size="8.1" text-anchor="middle">2</text>
<text x="676.45" y="311.4" font-size="8.1" text-anchor="middle">3</text>
<text x="590.7" y="323.7" font-size="8.2" text-anchor="middle" textLength="38.5" lengthAdjust="spacing" class="l"><tspan font-style="italic">N</tspan> courses</text>
<text x="486.9" y="346.7" font-size="8.2" textLength="71.8" lengthAdjust="spacing" class="l">Difference in EMM</text>
<rect x="565.3" y="335.8" width="119.1" height="7.8" fill="url(#rg)"/>
<line x1="566.8" y1="335.8" x2="566.8" y2="337.4" stroke="#fff" stroke-width="0.6"/>
<line x1="566.8" y1="342" x2="566.8" y2="343.6" stroke="#fff" stroke-width="0.6"/>
<text x="566.8" y="352.8" font-size="8.1" text-anchor="middle">0</text>
<line x1="591" y1="335.8" x2="591" y2="337.4" stroke="#fff" stroke-width="0.6"/>
<line x1="591" y1="342" x2="591" y2="343.6" stroke="#fff" stroke-width="0.6"/>
<text x="591" y="352.8" font-size="8.1" text-anchor="middle">0.5</text>
<line x1="615.3" y1="335.8" x2="615.3" y2="337.4" stroke="#fff" stroke-width="0.6"/>
<line x1="615.3" y1="342" x2="615.3" y2="343.6" stroke="#fff" stroke-width="0.6"/>
<text x="615.3" y="352.8" font-size="8.1" text-anchor="middle">1.0</text>
<line x1="639.5" y1="335.8" x2="639.5" y2="337.4" stroke="#fff" stroke-width="0.6"/>
<line x1="639.5" y1="342" x2="639.5" y2="343.6" stroke="#fff" stroke-width="0.6"/>
<text x="639.5" y="352.8" font-size="8.1" text-anchor="middle">1.5</text>
<line x1="663.5" y1="335.8" x2="663.5" y2="337.4" stroke="#fff" stroke-width="0.6"/>
<line x1="663.5" y1="342" x2="663.5" y2="343.6" stroke="#fff" stroke-width="0.6"/>
<text x="663.5" y="352.8" font-size="8.1" text-anchor="middle">2.0</text>
</g>
<g id="panel-c">
<rect x="132.5" y="394.8" width="179.8" height="48.83" fill="#FAFAFA"/>
<rect x="132.5" y="495.66" width="179.8" height="48.83" fill="#FAFAFA"/>
<rect x="132.5" y="596.52" width="179.8" height="48.83" fill="#FAFAFA"/>
<rect x="132.5" y="697.38" width="179.8" height="56.83" fill="#FAFAFA"/>
<rect x="318.5" y="394.8" width="179.35" height="48.83" fill="#FAFAFA"/>
<rect x="318.5" y="495.66" width="179.35" height="48.83" fill="#FAFAFA"/>
<rect x="318.5" y="596.52" width="179.35" height="48.83" fill="#FAFAFA"/>
<rect x="318.5" y="697.38" width="179.35" height="56.83" fill="#FAFAFA"/>
<rect x="505" y="394.8" width="180" height="48.83" fill="#FAFAFA"/>
<rect x="505" y="495.66" width="180" height="48.83" fill="#FAFAFA"/>
<rect x="505" y="596.52" width="180" height="48.83" fill="#FAFAFA"/>
<rect x="505" y="697.38" width="180" height="56.83" fill="#FAFAFA"/>
<line x1="131.9" y1="392" x2="131.9" y2="755.4" stroke="#B5B5B5" stroke-width="1.2"/>
<line x1="128.2" y1="402.5" x2="131.9" y2="402.5" stroke="#555" stroke-width="0.8"/>
<text class="l" y="404.75" font-size="6.93"><tspan class="d" x="93.5" font-size="7.04" style="letter-spacing:0.32px">4–8 </tspan><tspan x="108.41" style="letter-spacing:-0.36px">years</tspan></text>
<line x1="128.2" y1="419.31" x2="131.9" y2="419.31" stroke="#555" stroke-width="0.8"/>
<text class="l" y="421.56" font-size="6.93"><tspan class="d" x="94.34" font-size="7.04" style="letter-spacing:-0.04px">1–4 </tspan><tspan x="108.41" style="letter-spacing:-0.36px">years</tspan></text>
<line x1="128.2" y1="436.12" x2="131.9" y2="436.12" stroke="#555" stroke-width="0.8"/>
<text class="l" y="438.37" font-size="6.93"><tspan class="d" x="103.25" font-size="6.42">&lt;</tspan><tspan class="d" x="106.41" font-size="7.04">1 </tspan><tspan x="112.01" style="letter-spacing:-0.51px">year</tspan></text>
<line x1="128.2" y1="452.93" x2="131.9" y2="452.93" stroke="#555" stroke-width="0.8"/>
<text class="l" y="455.18" font-size="6.93"><tspan class="d" x="93.5" font-size="7.04" style="letter-spacing:0.32px">4–8 </tspan><tspan x="108.41" style="letter-spacing:-0.36px">years</tspan></text>
<line x1="128.2" y1="469.74" x2="131.9" y2="469.74" stroke="#555" stroke-width="0.8"/>
<text class="l" y="471.99" font-size="6.93"><tspan class="d" x="94.34" font-size="7.04" style="letter-spacing:-0.04px">1–4 </tspan><tspan x="108.41" style="letter-spacing:-0.36px">years</tspan></text>
<line x1="128.2" y1="486.55" x2="131.9" y2="486.55" stroke="#555" stroke-width="0.8"/>
<text class="l" y="488.8" font-size="6.93"><tspan class="d" x="103.25" font-size="6.42">&lt;</tspan><tspan class="d" x="106.41" font-size="7.04">1 </tspan><tspan x="112.01" style="letter-spacing:-0.51px">year</tspan></text>
<line x1="128.2" y1="503.36" x2="131.9" y2="503.36" stroke="#555" stroke-width="0.8"/>
<text class="l" y="505.61" font-size="6.93"><tspan class="d" x="93.5" font-size="7.04" style="letter-spacing:0.32px">4–8 </tspan><tspan x="108.41" style="letter-spacing:-0.36px">years</tspan></text>
<line x1="128.2" y1="520.17" x2="131.9" y2="520.17" stroke="#555" stroke-width="0.8"/>
<text class="l" y="522.42" font-size="6.93"><tspan class="d" x="94.34" font-size="7.04" style="letter-spacing:-0.04px">1–4 </tspan><tspan x="108.41" style="letter-spacing:-0.36px">years</tspan></text>
<line x1="128.2" y1="536.98" x2="131.9" y2="536.98" stroke="#555" stroke-width="0.8"/>
<text class="l" y="539.23" font-size="6.93"><tspan class="d" x="103.25" font-size="6.42">&lt;</tspan><tspan class="d" x="106.41" font-size="7.04">1 </tspan><tspan x="112.01" style="letter-spacing:-0.51px">year</tspan></text>
<line x1="128.2" y1="553.79" x2="131.9" y2="553.79" stroke="#555" stroke-width="0.8"/>
<text class="l" y="556.04" font-size="6.93"><tspan class="d" x="93.5" font-size="7.04" style="letter-spacing:0.32px">4–8 </tspan><tspan x="108.41" style="letter-spacing:-0.36px">years</tspan></text>
<line x1="128.2" y1="570.6" x2="131.9" y2="570.6" stroke="#555" stroke-width="0.8"/>
<text class="l" y="572.85" font-size="6.93"><tspan class="d" x="94.34" font-size="7.04" style="letter-spacing:-0.04px">1–4 </tspan><tspan x="108.41" style="letter-spacing:-0.36px">years</tspan></text>
<line x1="128.2" y1="587.41" x2="131.9" y2="587.41" stroke="#555" stroke-width="0.8"/>
<text class="l" y="589.66" font-size="6.93"><tspan class="d" x="103.25" font-size="6.42">&lt;</tspan><tspan class="d" x="106.41" font-size="7.04">1 </tspan><tspan x="112.01" style="letter-spacing:-0.51px">year</tspan></text>
<line x1="128.2" y1="604.22" x2="131.9" y2="604.22" stroke="#555" stroke-width="0.8"/>
<text class="l" y="606.47" font-size="6.93"><tspan class="d" x="93.5" font-size="7.04" style="letter-spacing:0.32px">4–8 </tspan><tspan x="108.41" style="letter-spacing:-0.36px">years</tspan></text>
<line x1="128.2" y1="621.03" x2="131.9" y2="621.03" stroke="#555" stroke-width="0.8"/>
<text class="l" y="623.28" font-size="6.93"><tspan class="d" x="94.34" font-size="7.04" style="letter-spacing:-0.04px">1–4 </tspan><tspan x="108.41" style="letter-spacing:-0.36px">years</tspan></text>
<line x1="128.2" y1="637.84" x2="131.9" y2="637.84" stroke="#555" stroke-width="0.8"/>
<text class="l" y="640.09" font-size="6.93"><tspan class="d" x="103.25" font-size="6.42">&lt;</tspan><tspan class="d" x="106.41" font-size="7.04">1 </tspan><tspan x="112.01" style="letter-spacing:-0.51px">year</tspan></text>
<line x1="128.2" y1="654.65" x2="131.9" y2="654.65" stroke="#555" stroke-width="0.8"/>
<text class="l" y="656.9" font-size="6.93"><tspan class="d" x="93.5" font-size="7.04" style="letter-spacing:0.32px">4–8 </tspan><tspan x="108.41" style="letter-spacing:-0.36px">years</tspan></text>
<line x1="128.2" y1="671.46" x2="131.9" y2="671.46" stroke="#555" stroke-width="0.8"/>
<text class="l" y="673.71" font-size="6.93"><tspan class="d" x="94.34" font-size="7.04" style="letter-spacing:-0.04px">1–4 </tspan><tspan x="108.41" style="letter-spacing:-0.36px">years</tspan></text>
<line x1="128.2" y1="688.27" x2="131.9" y2="688.27" stroke="#555" stroke-width="0.8"/>
<text class="l" y="690.52" font-size="6.93"><tspan class="d" x="103.25" font-size="6.42">&lt;</tspan><tspan class="d" x="106.41" font-size="7.04">1 </tspan><tspan x="112.01" style="letter-spacing:-0.51px">year</tspan></text>
<line x1="128.2" y1="705.08" x2="131.9" y2="705.08" stroke="#555" stroke-width="0.8"/>
<text class="l" y="707.33" font-size="6.93"><tspan class="d" x="93.5" font-size="7.04" style="letter-spacing:0.32px">4–8 </tspan><tspan x="108.41" style="letter-spacing:-0.36px">years</tspan></text>
<line x1="128.2" y1="721.89" x2="131.9" y2="721.89" stroke="#555" stroke-width="0.8"/>
<text class="l" y="724.14" font-size="6.93"><tspan class="d" x="94.34" font-size="7.04" style="letter-spacing:-0.04px">1–4 </tspan><tspan x="108.41" style="letter-spacing:-0.36px">years</tspan></text>
<line x1="128.2" y1="738.7" x2="131.9" y2="738.7" stroke="#555" stroke-width="0.8"/>
<text class="l" y="740.95" font-size="6.93"><tspan class="d" x="103.25" font-size="6.42">&lt;</tspan><tspan class="d" x="106.41" font-size="7.04">1 </tspan><tspan x="112.01" style="letter-spacing:-0.51px">year</tspan></text>
<text x="44.8" y="408.8" font-size="8.2" textLength="43.4" lengthAdjust="spacing" class="l">Penicillin V</text>
<text x="36.1" y="455.7" font-size="8.2" textLength="52.1" lengthAdjust="spacing" class="l">Tetracyclines</text>
<text x="35.8" y="506.6" font-size="8.2" textLength="52.4" lengthAdjust="spacing" class="l">Flucloxacillin</text>
<text x="17.8" y="557.3" font-size="8.2" textLength="70.4" lengthAdjust="spacing" class="l">Fluoroquinolones</text>
<text x="32.7" y="607.5" font-size="8.2" textLength="55.5" lengthAdjust="spacing" class="l">Nitrofurantoin</text>
<text x="38.4" y="657.2" font-size="8.2" textLength="49.8" lengthAdjust="spacing" class="l">Clindamycin</text>
<text x="44.1" y="708.1" font-size="8.2" textLength="44.1" lengthAdjust="spacing" class="l">Macrolides</text>
<line x1="131.9" y1="755.45" x2="313.4" y2="755.45" stroke="#8c8c8c" stroke-width="1.1"/>
<line x1="167.5" y1="755.4" x2="167.5" y2="759.3" stroke="#999" stroke-width="1"/>
<text x="167.5" y="768.3" font-size="7.6" text-anchor="middle">−0.2</text>
<line x1="214.8" y1="755.4" x2="214.8" y2="759.3" stroke="#999" stroke-width="1"/>
<text x="214.8" y="768.3" font-size="7.6" text-anchor="middle">−0.1</text>
<line x1="262.2" y1="755.4" x2="262.2" y2="759.3" stroke="#999" stroke-width="1"/>
<text x="262.2" y="768.3" font-size="7.6" text-anchor="middle">0</text>
<line x1="309.6" y1="755.4" x2="309.6" y2="759.3" stroke="#999" stroke-width="1"/>
<text x="308.3" y="768.3" font-size="7.6" text-anchor="middle">0.1</text>
<line x1="262.25" y1="394.5" x2="262.25" y2="755" stroke="#8E8E8E" stroke-width="1.35" stroke-dasharray="3.6 3.43"/>
<text x="203.5" y="385.3" font-size="8.2" textLength="35" lengthAdjust="spacing" class="l">Shannon</text>
<path d="M254.7 402.5L258.7 398.5L262.7 402.5L258.7 406.5Z" fill="#fff" stroke="#222" stroke-width="0.95" stroke-linejoin="miter"/>
<line x1="254.5" y1="419.31" x2="264.5" y2="419.31" stroke="#8AE3A2" stroke-width="1.4"/>
<path d="M255.3 419.31L259.3 415.31L263.3 419.31L259.3 423.31Z" fill="#fff" stroke="#222" stroke-width="0.95" stroke-linejoin="miter"/>
<line x1="247.3" y1="436.12" x2="268.1" y2="436.12" stroke="#DDADDF" stroke-width="1.4"/>
<path d="M253.6 436.12L257.6 432.12L261.6 436.12L257.6 440.12Z" fill="#fff" stroke="#222" stroke-width="0.95" stroke-linejoin="miter"/>
<line x1="253.5" y1="452.93" x2="260.5" y2="452.93" stroke="#EFCFAF" stroke-width="1.4"/>
<path d="M253 452.93L257 448.93L261 452.93L257 456.93Z" fill="#fff" stroke="#222" stroke-width="0.95" stroke-linejoin="miter"/>
<line x1="248.4" y1="469.74" x2="259.3" y2="469.74" stroke="#8AE3A2" stroke-width="1.4"/>
<path d="M249.7 469.74L253.7 465.74L257.7 469.74L253.7 473.74Z" fill="#70DB90" stroke="#222" stroke-width="0.95" stroke-linejoin="miter"/>
<line x1="232.1" y1="486.55" x2="259.8" y2="486.55" stroke="#DDADDF" stroke-width="1.4"/>
<path d="M241.7 486.55L245.7 482.55L249.7 486.55L245.7 490.55Z" fill="#fff" stroke="#222" stroke-width="0.95" stroke-linejoin="miter"/>
<line x1="246.6" y1="503.36" x2="259.7" y2="503.36" stroke="#EFCFAF" stroke-width="1.4"/>
<path d="M249.1 503.36L253.1 499.36L257.1 503.36L253.1 507.36Z" fill="#E6C5A4" stroke="#222" stroke-width="0.95" stroke-linejoin="miter"/>
<line x1="240.9" y1="520.17" x2="255.5" y2="520.17" stroke="#8AE3A2" stroke-width="1.4"/>
<path d="M244.2 520.17L248.2 516.17L252.2 520.17L248.2 524.17Z" fill="#70DB90" stroke="#222" stroke-width="0.95" stroke-linejoin="miter"/>
<line x1="195.9" y1="536.98" x2="230.7" y2="536.98" stroke="#DDADDF" stroke-width="1.4"/>
<path d="M209.2 536.98L213.2 532.98L217.2 536.98L213.2 540.98Z" fill="#D59FD8" stroke="#222" stroke-width="0.95" stroke-linejoin="miter"/>
<line x1="245.4" y1="553.79" x2="259.3" y2="553.79" stroke="#EFCFAF" stroke-width="1.4"/>
<path d="M248.3 553.79L252.3 549.79L256.3 553.79L252.3 557.79Z" fill="#E6C5A4" stroke="#222" stroke-width="0.95" stroke-linejoin="miter"/>
<line x1="244.8" y1="570.6" x2="257.9" y2="570.6" stroke="#8AE3A2" stroke-width="1.4"/>
<path d="M247.2 570.6L251.2 566.6L255.2 570.6L251.2 574.6Z" fill="#70DB90" stroke="#222" stroke-width="0.95" stroke-linejoin="miter"/>
<line x1="214.1" y1="587.41" x2="246.8" y2="587.41" stroke="#DDADDF" stroke-width="1.4"/>
<path d="M226.1 587.41L230.1 583.41L234.1 587.41L230.1 591.41Z" fill="#D59FD8" stroke="#222" stroke-width="0.95" stroke-linejoin="miter"/>
<line x1="257.3" y1="604.22" x2="276.2" y2="604.22" stroke="#EFCFAF" stroke-width="1.4"/>
<path d="M262.5 604.22L266.5 600.22L270.5 604.22L266.5 608.22Z" fill="#fff" stroke="#222" stroke-width="0.95" stroke-linejoin="miter"/>
<line x1="244.8" y1="621.03" x2="263.7" y2="621.03" stroke="#8AE3A2" stroke-width="1.4"/>
<path d="M250 621.03L254 617.03L258 621.03L254 625.03Z" fill="#fff" stroke="#222" stroke-width="0.95" stroke-linejoin="miter"/>
<line x1="264.3" y1="637.84" x2="305" y2="637.84" stroke="#DDADDF" stroke-width="1.4"/>
<path d="M280.5 637.84L284.5 633.84L288.5 637.84L284.5 641.84Z" fill="#fff" stroke="#222" stroke-width="0.95" stroke-linejoin="miter"/>
<line x1="241.5" y1="654.65" x2="261.2" y2="654.65" stroke="#EFCFAF" stroke-width="1.4"/>
<path d="M247.2 654.65L251.2 650.65L255.2 654.65L251.2 658.65Z" fill="#fff" stroke="#222" stroke-width="0.95" stroke-linejoin="miter"/>
<line x1="216.3" y1="671.46" x2="239.8" y2="671.46" stroke="#8AE3A2" stroke-width="1.4"/>
<path d="M223.9 671.46L227.9 667.46L231.9 671.46L227.9 675.46Z" fill="#70DB90" stroke="#222" stroke-width="0.95" stroke-linejoin="miter"/>
<line x1="140" y1="688.27" x2="185.8" y2="688.27" stroke="#DDADDF" stroke-width="1.4"/>
<path d="M158.7 688.27L162.7 684.27L166.7 688.27L162.7 692.27Z" fill="#D59FD8" stroke="#222" stroke-width="0.95" stroke-linejoin="miter"/>
<line x1="243.7" y1="705.08" x2="264.3" y2="705.08" stroke="#EFCFAF" stroke-width="1.4"/>
<path d="M250 705.08L254 701.08L258 705.08L254 709.08Z" fill="#fff" stroke="#222" stroke-width="0.95" stroke-linejoin="miter"/>
<line x1="234" y1="721.89" x2="256.8" y2="721.89" stroke="#8AE3A2" stroke-width="1.4"/>
<path d="M241.4 721.89L245.4 717.89L249.4 721.89L245.4 725.89Z" fill="#70DB90" stroke="#222" stroke-width="0.95" stroke-linejoin="miter"/>
<line x1="198" y1="738.7" x2="272.3" y2="738.7" stroke="#DDADDF" stroke-width="1.4"/>
<path d="M231 738.7L235 734.7L239 738.7L235 742.7Z" fill="#fff" stroke="#222" stroke-width="0.95" stroke-linejoin="miter"/>
<line x1="317.4" y1="755.45" x2="498.95" y2="755.45" stroke="#8c8c8c" stroke-width="1.1"/>
<line x1="321.1" y1="755.4" x2="321.1" y2="759.3" stroke="#999" stroke-width="1"/>
<text x="321.1" y="768.3" font-size="7.6" text-anchor="middle">−60</text>
<line x1="363.3" y1="755.4" x2="363.3" y2="759.3" stroke="#999" stroke-width="1"/>
<text x="363.3" y="768.3" font-size="7.6" text-anchor="middle">−40</text>
<line x1="405.5" y1="755.4" x2="405.5" y2="759.3" stroke="#999" stroke-width="1"/>
<text x="405.5" y="768.3" font-size="7.6" text-anchor="middle">−20</text>
<line x1="447.7" y1="755.4" x2="447.7" y2="759.3" stroke="#999" stroke-width="1"/>
<text x="447.7" y="768.3" font-size="7.6" text-anchor="middle">0</text>
<line x1="489.9" y1="755.4" x2="489.9" y2="759.3" stroke="#999" stroke-width="1"/>
<text x="489.9" y="768.3" font-size="7.6" text-anchor="middle">20</text>
<line x1="447.8" y1="394.5" x2="447.8" y2="755" stroke="#8E8E8E" stroke-width="1.35" stroke-dasharray="3.6 3.43"/>
<text x="388.8" y="385.3" font-size="8.2" textLength="35.7" lengthAdjust="spacing" class="l">Richness</text>
<path d="M441.6 402.5L445.6 398.5L449.6 402.5L445.6 406.5Z" fill="#fff" stroke="#222" stroke-width="0.95" stroke-linejoin="miter"/>
<line x1="437.6" y1="419.31" x2="445.9" y2="419.31" stroke="#8AE3A2" stroke-width="1.4"/>
<path d="M438 419.31L442 415.31L446 419.31L442 423.31Z" fill="#fff" stroke="#222" stroke-width="0.95" stroke-linejoin="miter"/>
<line x1="422.1" y1="436.12" x2="442.3" y2="436.12" stroke="#DDADDF" stroke-width="1.4"/>
<path d="M428.3 436.12L432.3 432.12L436.3 436.12L432.3 440.12Z" fill="#D59FD8" stroke="#222" stroke-width="0.95" stroke-linejoin="miter"/>
<line x1="438.4" y1="452.93" x2="447.9" y2="452.93" stroke="#EFCFAF" stroke-width="1.4"/>
<path d="M438.9 452.93L442.9 448.93L446.9 452.93L442.9 456.93Z" fill="#E6C5A4" stroke="#222" stroke-width="0.95" stroke-linejoin="miter"/>
<line x1="430.4" y1="469.74" x2="441.2" y2="469.74" stroke="#8AE3A2" stroke-width="1.4"/>
<path d="M431.9 469.74L435.9 465.74L439.9 469.74L435.9 473.74Z" fill="#70DB90" stroke="#222" stroke-width="0.95" stroke-linejoin="miter"/>
<line x1="410.1" y1="486.55" x2="437" y2="486.55" stroke="#DDADDF" stroke-width="1.4"/>
<path d="M419.5 486.55L423.5 482.55L427.5 486.55L423.5 490.55Z" fill="#D59FD8" stroke="#222" stroke-width="0.95" stroke-linejoin="miter"/>
<line x1="436.2" y1="503.36" x2="448.1" y2="503.36" stroke="#EFCFAF" stroke-width="1.4"/>
<path d="M438 503.36L442 499.36L446 503.36L442 507.36Z" fill="#fff" stroke="#222" stroke-width="0.95" stroke-linejoin="miter"/>
<line x1="432.3" y1="520.17" x2="446.2" y2="520.17" stroke="#8AE3A2" stroke-width="1.4"/>
<path d="M435.3 520.17L439.3 516.17L443.3 520.17L439.3 524.17Z" fill="#70DB90" stroke="#222" stroke-width="0.95" stroke-linejoin="miter"/>
<line x1="386.6" y1="536.98" x2="419.8" y2="536.98" stroke="#DDADDF" stroke-width="1.4"/>
<path d="M399.2 536.98L403.2 532.98L407.2 536.98L403.2 540.98Z" fill="#D59FD8" stroke="#222" stroke-width="0.95" stroke-linejoin="miter"/>
<line x1="430.1" y1="553.79" x2="443.7" y2="553.79" stroke="#EFCFAF" stroke-width="1.4"/>
<path d="M433 553.79L437 549.79L441 553.79L437 557.79Z" fill="#E6C5A4" stroke="#222" stroke-width="0.95" stroke-linejoin="miter"/>
<line x1="429.3" y1="570.6" x2="442.3" y2="570.6" stroke="#8AE3A2" stroke-width="1.4"/>
<path d="M431.9 570.6L435.9 566.6L439.9 570.6L435.9 574.6Z" fill="#70DB90" stroke="#222" stroke-width="0.95" stroke-linejoin="miter"/>
<line x1="389.9" y1="587.41" x2="421" y2="587.41" stroke="#DDADDF" stroke-width="1.4"/>
<path d="M401.4 587.41L405.4 583.41L409.4 587.41L405.4 591.41Z" fill="#D59FD8" stroke="#222" stroke-width="0.95" stroke-linejoin="miter"/>
<line x1="440.1" y1="604.22" x2="457.9" y2="604.22" stroke="#EFCFAF" stroke-width="1.4"/>
<path d="M445 604.22L449 600.22L453 604.22L449 608.22Z" fill="#fff" stroke="#222" stroke-width="0.95" stroke-linejoin="miter"/>
<line x1="432.9" y1="621.03" x2="450.9" y2="621.03" stroke="#8AE3A2" stroke-width="1.4"/>
<path d="M437.8 621.03L441.8 617.03L445.8 621.03L441.8 625.03Z" fill="#fff" stroke="#222" stroke-width="0.95" stroke-linejoin="miter"/>
<line x1="452" y1="637.84" x2="490.9" y2="637.84" stroke="#DDADDF" stroke-width="1.4"/>
<path d="M467.2 637.84L471.2 633.84L475.2 637.84L471.2 641.84Z" fill="#D59FD8" stroke="#222" stroke-width="0.95" stroke-linejoin="miter"/>
<line x1="427.9" y1="654.65" x2="446.2" y2="654.65" stroke="#EFCFAF" stroke-width="1.4"/>
<path d="M433 654.65L437 650.65L441 654.65L437 658.65Z" fill="#fff" stroke="#222" stroke-width="0.95" stroke-linejoin="miter"/>
<line x1="400.2" y1="671.46" x2="422.9" y2="671.46" stroke="#8AE3A2" stroke-width="1.4"/>
<path d="M407.5 671.46L411.5 667.46L415.5 671.46L411.5 675.46Z" fill="#70DB90" stroke="#222" stroke-width="0.95" stroke-linejoin="miter"/>
<line x1="326.1" y1="688.27" x2="370.2" y2="688.27" stroke="#DDADDF" stroke-width="1.4"/>
<path d="M344 688.27L348 684.27L352 688.27L348 692.27Z" fill="#D59FD8" stroke="#222" stroke-width="0.95" stroke-linejoin="miter"/>
<line x1="430.1" y1="705.08" x2="450.6" y2="705.08" stroke="#EFCFAF" stroke-width="1.4"/>
<path d="M436.4 705.08L440.4 701.08L444.4 705.08L440.4 709.08Z" fill="#fff" stroke="#222" stroke-width="0.95" stroke-linejoin="miter"/>
<line x1="418.7" y1="721.89" x2="440.9" y2="721.89" stroke="#8AE3A2" stroke-width="1.4"/>
<path d="M425.8 721.89L429.8 717.89L433.8 721.89L429.8 725.89Z" fill="#70DB90" stroke="#222" stroke-width="0.95" stroke-linejoin="miter"/>
<line x1="363.3" y1="738.7" x2="434.8" y2="738.7" stroke="#DDADDF" stroke-width="1.4"/>
<path d="M394.8 738.7L398.8 734.7L402.8 738.7L398.8 742.7Z" fill="#D59FD8" stroke="#222" stroke-width="0.95" stroke-linejoin="miter"/>
<line x1="503.9" y1="755.45" x2="685" y2="755.45" stroke="#8c8c8c" stroke-width="1.1"/>
<line x1="508.9" y1="755.4" x2="508.9" y2="759.3" stroke="#999" stroke-width="1"/>
<text x="508.9" y="768.3" font-size="7.6" text-anchor="middle">−6</text>
<line x1="547.7" y1="755.4" x2="547.7" y2="759.3" stroke="#999" stroke-width="1"/>
<text x="547.7" y="768.3" font-size="7.6" text-anchor="middle">−4</text>
<line x1="586.5" y1="755.4" x2="586.5" y2="759.3" stroke="#999" stroke-width="1"/>
<text x="586.5" y="768.3" font-size="7.6" text-anchor="middle">−2</text>
<line x1="625.4" y1="755.4" x2="625.4" y2="759.3" stroke="#999" stroke-width="1"/>
<text x="625.4" y="768.3" font-size="7.6" text-anchor="middle">0</text>
<line x1="664" y1="755.4" x2="664" y2="759.3" stroke="#999" stroke-width="1"/>
<text x="664" y="768.3" font-size="7.6" text-anchor="middle">2</text>
<line x1="625.4" y1="394.5" x2="625.4" y2="755" stroke="#8E8E8E" stroke-width="1.35" stroke-dasharray="3.6 3.43"/>
<text x="566.8" y="385.3" font-size="8.2" textLength="51.5" lengthAdjust="spacing" class="l">Inv. Simpson</text>
<path d="M617.2 402.5L621.2 398.5L625.2 402.5L621.2 406.5Z" fill="#fff" stroke="#222" stroke-width="0.95" stroke-linejoin="miter"/>
<line x1="617.6" y1="419.31" x2="631.2" y2="419.31" stroke="#8AE3A2" stroke-width="1.4"/>
<path d="M620.3 419.31L624.3 415.31L628.3 419.31L624.3 423.31Z" fill="#fff" stroke="#222" stroke-width="0.95" stroke-linejoin="miter"/>
<line x1="607.1" y1="436.12" x2="634.5" y2="436.12" stroke="#DDADDF" stroke-width="1.4"/>
<path d="M616.7 436.12L620.7 432.12L624.7 436.12L620.7 440.12Z" fill="#fff" stroke="#222" stroke-width="0.95" stroke-linejoin="miter"/>
<line x1="614.8" y1="452.93" x2="625.4" y2="452.93" stroke="#EFCFAF" stroke-width="1.4"/>
<path d="M615.8 452.93L619.8 448.93L623.8 452.93L619.8 456.93Z" fill="#fff" stroke="#222" stroke-width="0.95" stroke-linejoin="miter"/>
<line x1="608.5" y1="469.74" x2="625.1" y2="469.74" stroke="#8AE3A2" stroke-width="1.4"/>
<path d="M612.8 469.74L616.8 465.74L620.8 469.74L616.8 473.74Z" fill="#fff" stroke="#222" stroke-width="0.95" stroke-linejoin="miter"/>
<line x1="594.3" y1="486.55" x2="630.6" y2="486.55" stroke="#DDADDF" stroke-width="1.4"/>
<path d="M608.3 486.55L612.3 482.55L616.3 486.55L612.3 490.55Z" fill="#fff" stroke="#222" stroke-width="0.95" stroke-linejoin="miter"/>
<line x1="612.1" y1="503.36" x2="628.4" y2="503.36" stroke="#EFCFAF" stroke-width="1.4"/>
<path d="M616.1 503.36L620.1 499.36L624.1 503.36L620.1 507.36Z" fill="#fff" stroke="#222" stroke-width="0.95" stroke-linejoin="miter"/>
<line x1="600.4" y1="520.17" x2="619" y2="520.17" stroke="#8AE3A2" stroke-width="1.4"/>
<path d="M605.8 520.17L609.8 516.17L613.8 520.17L609.8 524.17Z" fill="#70DB90" stroke="#222" stroke-width="0.95" stroke-linejoin="miter"/>
<line x1="557.7" y1="536.98" x2="601.5" y2="536.98" stroke="#DDADDF" stroke-width="1.4"/>
<path d="M575.6 536.98L579.6 532.98L583.6 536.98L579.6 540.98Z" fill="#D59FD8" stroke="#222" stroke-width="0.95" stroke-linejoin="miter"/>
<line x1="604" y1="553.79" x2="622" y2="553.79" stroke="#EFCFAF" stroke-width="1.4"/>
<path d="M609.2 553.79L613.2 549.79L617.2 553.79L613.2 557.79Z" fill="#E6C5A4" stroke="#222" stroke-width="0.95" stroke-linejoin="miter"/>
<line x1="604.8" y1="570.6" x2="622" y2="570.6" stroke="#8AE3A2" stroke-width="1.4"/>
<path d="M609.4 570.6L613.4 566.6L617.4 570.6L613.4 574.6Z" fill="#70DB90" stroke="#222" stroke-width="0.95" stroke-linejoin="miter"/>
<line x1="580.7" y1="587.41" x2="620.1" y2="587.41" stroke="#DDADDF" stroke-width="1.4"/>
<path d="M596.4 587.41L600.4 583.41L604.4 587.41L600.4 591.41Z" fill="#fff" stroke="#222" stroke-width="0.95" stroke-linejoin="miter"/>
<line x1="617.6" y1="604.22" x2="640.9" y2="604.22" stroke="#EFCFAF" stroke-width="1.4"/>
<path d="M625 604.22L629 600.22L633 604.22L629 608.22Z" fill="#fff" stroke="#222" stroke-width="0.95" stroke-linejoin="miter"/>
<line x1="601" y1="621.03" x2="625.4" y2="621.03" stroke="#8AE3A2" stroke-width="1.4"/>
<path d="M609.2 621.03L613.2 617.03L617.2 621.03L613.2 625.03Z" fill="#fff" stroke="#222" stroke-width="0.95" stroke-linejoin="miter"/>
<line x1="625.9" y1="637.84" x2="677" y2="637.84" stroke="#DDADDF" stroke-width="1.4"/>
<path d="M647.2 637.84L651.2 633.84L655.2 637.84L651.2 641.84Z" fill="#fff" stroke="#222" stroke-width="0.95" stroke-linejoin="miter"/>
<line x1="599" y1="654.65" x2="625.4" y2="654.65" stroke="#EFCFAF" stroke-width="1.4"/>
<path d="M607.8 654.65L611.8 650.65L615.8 654.65L611.8 658.65Z" fill="#fff" stroke="#222" stroke-width="0.95" stroke-linejoin="miter"/>
<line x1="577.9" y1="671.46" x2="609" y2="671.46" stroke="#8AE3A2" stroke-width="1.4"/>
<path d="M589.2 671.46L593.2 667.46L597.2 671.46L593.2 675.46Z" fill="#70DB90" stroke="#222" stroke-width="0.95" stroke-linejoin="miter"/>
<line x1="512.2" y1="688.27" x2="572.4" y2="688.27" stroke="#DDADDF" stroke-width="1.4"/>
<path d="M538.4 688.27L542.4 684.27L546.4 688.27L542.4 692.27Z" fill="#D59FD8" stroke="#222" stroke-width="0.95" stroke-linejoin="miter"/>
<line x1="599.3" y1="705.08" x2="627.6" y2="705.08" stroke="#EFCFAF" stroke-width="1.4"/>
<path d="M609.4 705.08L613.4 701.08L617.4 705.08L613.4 709.08Z" fill="#fff" stroke="#222" stroke-width="0.95" stroke-linejoin="miter"/>
<line x1="597.4" y1="721.89" x2="629.3" y2="721.89" stroke="#8AE3A2" stroke-width="1.4"/>
<path d="M609.4 721.89L613.4 717.89L617.4 721.89L613.4 725.89Z" fill="#fff" stroke="#222" stroke-width="0.95" stroke-linejoin="miter"/>
<line x1="561.9" y1="738.7" x2="663.4" y2="738.7" stroke="#DDADDF" stroke-width="1.4"/>
<path d="M608.6 738.7L612.6 734.7L616.6 738.7L612.6 742.7Z" fill="#fff" stroke="#222" stroke-width="0.95" stroke-linejoin="miter"/>
<text x="363.3" y="780.9" font-size="8.2" textLength="89.6" lengthAdjust="spacing" class="l">Regression coefficient</text>
</g>
</svg></body></html>
